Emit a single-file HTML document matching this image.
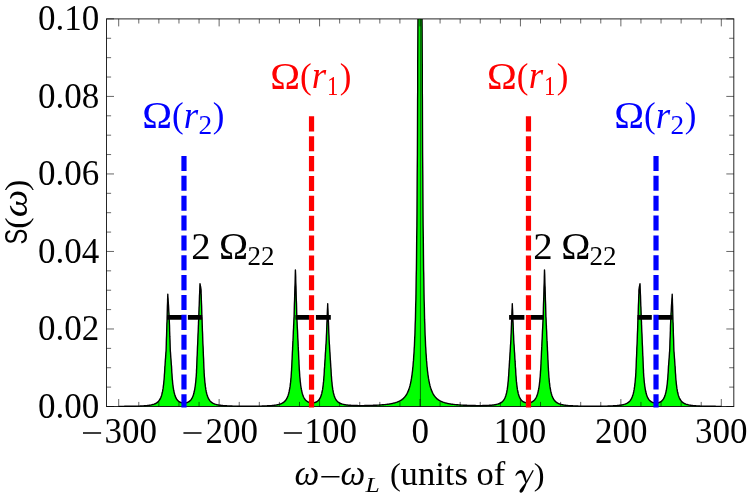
<!DOCTYPE html>
<html><head><meta charset="utf-8"><title>Spectrum</title>
<style>
html,body{margin:0;padding:0;background:#fff;}
svg{display:block;}
text{font-family:"Liberation Serif",serif;}
</style></head><body>
<svg width="747" height="498" viewBox="0 0 747 498">
<rect width="747" height="498" fill="#fff"/>
<clipPath id="c"><rect x="106.5" y="18.9" width="627.3" height="388.6"/></clipPath>
<g clip-path="url(#c)">
<path d="M118.7,406.5 L118.7,406.4 119.4,406.4 120.0,406.4 120.7,406.4 121.4,406.4 122.1,406.4 122.7,406.4 123.4,406.4 124.1,406.4 124.7,406.3 125.4,406.3 126.1,406.3 126.7,406.3 127.4,406.3 128.1,406.3 128.8,406.3 129.4,406.3 130.1,406.3 130.8,406.3 131.4,406.3 132.1,406.3 132.8,406.2 133.4,406.2 134.1,406.2 134.8,406.2 135.5,406.2 136.1,406.2 136.8,406.1 137.5,406.1 138.1,406.1 138.8,406.1 139.5,406.1 140.2,406.0 140.8,406.0 141.5,406.0 142.2,405.9 142.8,405.9 143.5,405.9 144.2,405.8 144.8,405.8 145.5,405.7 146.2,405.6 146.9,405.6 147.5,405.5 148.2,405.4 148.9,405.3 149.5,405.2 150.2,405.1 150.9,405.0 151.5,404.9 152.2,404.7 152.9,404.5 153.6,404.3 154.1,404.1 154.2,404.1 154.3,404.1 154.4,404.0 154.5,404.0 154.6,403.9 154.8,403.9 154.9,403.8 154.9,403.8 155.0,403.8 155.1,403.7 155.3,403.7 155.4,403.6 155.5,403.5 155.6,403.5 155.6,403.5 155.8,403.4 155.9,403.3 156.0,403.3 156.1,403.2 156.2,403.1 156.3,403.1 156.4,403.0 156.5,403.0 156.7,402.9 156.8,402.8 156.9,402.7 156.9,402.7 157.0,402.6 157.2,402.5 157.3,402.4 157.4,402.3 157.5,402.2 157.6,402.2 157.7,402.1 157.8,402.0 157.9,401.9 158.0,401.8 158.2,401.7 158.2,401.6 158.3,401.5 158.4,401.4 158.5,401.3 158.7,401.1 158.8,401.0 158.9,400.8 158.9,400.8 159.0,400.7 159.2,400.5 159.3,400.3 159.4,400.1 159.5,400.0 159.6,399.9 159.7,399.8 159.8,399.6 159.9,399.3 160.0,399.1 160.2,398.9 160.3,398.7 160.3,398.6 160.4,398.4 160.5,398.1 160.7,397.8 160.8,397.6 160.9,397.2 160.9,397.2 161.0,396.9 161.2,396.6 161.3,396.2 161.4,395.9 161.5,395.5 161.6,395.3 161.7,395.0 161.8,394.6 161.9,394.1 162.0,393.6 162.2,393.1 162.3,392.7 162.3,392.6 162.4,392.0 162.6,391.4 162.7,390.7 162.8,390.0 162.9,389.2 162.9,389.1 163.1,388.4 163.2,387.6 163.3,386.7 163.4,385.7 163.6,384.6 163.6,384.1 163.7,383.5 163.8,382.3 163.9,381.0 164.1,379.5 164.2,378.0 164.3,376.7 164.3,376.3 164.4,374.5 164.6,372.6 164.7,370.5 164.8,368.6 164.8,367.9 164.9,366.2 165.0,366.0 165.1,364.5 165.2,362.8 165.3,361.1 165.4,359.4 165.6,357.7 165.6,356.9 165.7,356.0 165.8,354.3 165.9,352.6 166.1,350.9 166.1,350.6 166.2,347.3 166.3,344.0 166.3,343.2 166.4,339.2 166.6,335.1 166.7,331.0 166.8,326.9 166.9,322.8 167.0,322.3 167.1,318.8 167.1,318.0 167.2,314.6 167.3,310.3 167.4,306.1 167.6,301.8 167.6,299.8 167.7,297.6 167.8,294.2 167.8,294.6 167.9,296.7 168.1,298.9 168.2,301.0 168.3,302.7 168.3,303.1 168.5,305.2 168.6,307.3 168.7,309.4 168.8,311.6 169.0,313.7 169.0,314.0 169.1,315.8 169.2,317.9 169.3,321.6 169.5,325.3 169.6,329.0 169.6,330.8 169.7,332.7 169.8,336.4 170.0,340.1 170.1,343.8 170.2,347.5 170.3,350.4 170.3,350.5 170.3,350.8 170.5,352.5 170.6,354.2 170.7,355.9 170.8,357.6 171.0,359.3 171.0,359.6 171.1,360.9 171.2,362.6 171.3,364.3 171.5,366.0 171.6,367.7 171.6,368.4 171.7,369.2 171.7,370.3 171.8,372.4 172.0,374.3 172.1,376.1 172.2,377.8 172.3,379.1 172.3,379.3 172.5,380.7 172.6,382.0 172.7,383.2 172.8,384.3 173.0,385.4 173.0,385.6 173.1,386.4 173.2,387.3 173.3,388.1 173.5,388.9 173.6,389.7 173.7,390.0 173.7,390.4 173.8,391.0 174.0,391.6 174.1,392.2 174.2,392.8 174.3,393.2 174.4,393.3 174.5,393.7 174.6,394.2 174.7,394.6 174.9,395.0 175.0,395.4 175.0,395.5 175.1,395.8 175.2,396.1 175.4,396.5 175.5,396.8 175.6,397.1 175.7,397.2 175.7,397.4 175.9,397.6 176.0,397.9 176.1,398.1 176.2,398.4 176.3,398.6 176.4,398.6 176.5,398.8 176.6,399.0 176.7,399.2 176.9,399.4 177.0,399.6 177.0,399.6 177.1,399.7 177.2,399.9 177.4,400.0 177.5,400.2 177.6,400.3 177.7,400.4 177.7,400.5 177.9,400.6 178.0,400.7 178.1,400.8 178.2,401.0 178.4,401.1 178.4,401.1 178.5,401.2 178.6,401.3 178.7,401.4 178.9,401.5 179.0,401.5 179.0,401.6 179.1,401.6 179.2,401.7 179.4,401.8 179.5,401.9 179.6,401.9 179.7,402.0 179.7,402.0 179.9,402.1 180.0,402.1 180.1,402.2 180.3,402.2 180.4,402.3 180.4,402.3 180.5,402.3 180.6,402.4 180.8,402.4 180.9,402.5 181.0,402.5 181.0,402.5 181.1,402.6 181.3,402.6 181.4,402.6 181.5,402.7 181.6,402.7 181.7,402.7 181.8,402.7 181.9,402.8 182.0,402.8 182.1,402.8 182.3,402.8 182.4,402.9 183.0,402.9 183.7,403.0 184.4,403.0 185.1,402.9 185.7,402.8 186.2,402.7 186.4,402.7 186.4,402.7 186.5,402.7 186.6,402.6 186.7,402.6 186.9,402.6 187.0,402.5 187.1,402.5 187.1,402.5 187.2,402.5 187.4,402.4 187.5,402.4 187.6,402.3 187.7,402.3 187.7,402.3 187.9,402.2 188.0,402.1 188.1,402.1 188.2,402.0 188.4,402.0 188.4,401.9 188.5,401.9 188.6,401.8 188.8,401.7 188.9,401.7 189.0,401.6 189.1,401.5 189.1,401.5 189.3,401.4 189.4,401.3 189.5,401.2 189.6,401.1 189.8,401.0 189.8,401.0 189.9,400.9 190.0,400.8 190.1,400.7 190.3,400.6 190.4,400.5 190.4,400.4 190.5,400.3 190.6,400.2 190.8,400.0 190.9,399.9 191.0,399.7 191.1,399.6 191.1,399.6 191.3,399.4 191.4,399.2 191.5,399.0 191.6,398.8 191.8,398.6 191.8,398.6 191.9,398.4 192.0,398.2 192.1,398.0 192.3,397.7 192.4,397.5 192.4,397.4 192.5,397.2 192.6,396.9 192.8,396.6 192.9,396.3 193.0,396.0 193.1,395.8 193.1,395.6 193.3,395.3 193.4,394.9 193.5,394.5 193.6,394.1 193.8,393.6 193.8,393.6 193.9,393.1 194.0,392.6 194.1,392.1 194.3,391.6 194.4,391.0 194.4,390.7 194.5,390.3 194.7,389.6 194.8,388.9 194.9,388.2 195.0,387.4 195.1,386.8 195.2,386.5 195.3,385.6 195.4,384.6 195.5,383.5 195.7,382.3 195.8,381.1 195.8,381.1 195.9,379.8 196.0,378.4 196.2,376.8 196.3,375.2 196.4,373.3 196.5,372.6 196.5,372.2 196.5,370.6 196.7,367.6 196.8,364.6 196.9,361.6 197.0,358.6 197.1,356.5 197.2,355.6 197.3,352.7 197.4,349.7 197.5,346.7 197.7,343.7 197.8,340.7 197.8,340.5 197.9,337.6 198.0,334.6 198.2,331.5 198.3,328.5 198.4,325.4 198.5,324.2 198.5,322.4 198.7,319.3 198.7,317.5 198.8,316.1 198.9,312.7 199.0,309.4 199.1,306.9 199.2,306.0 199.3,302.6 199.4,299.2 199.5,295.9 199.7,292.5 199.8,289.1 199.8,288.9 199.9,285.7 200.0,283.7 200.0,284.0 200.2,284.7 200.3,285.4 200.4,286.1 200.5,286.3 200.6,286.7 200.7,287.4 200.8,288.1 200.9,288.8 201.0,289.2 201.1,290.7 201.1,293.5 201.2,294.4 201.3,298.2 201.4,301.9 201.6,305.6 201.7,309.3 201.8,313.1 201.8,313.4 201.9,316.8 202.0,317.5 202.1,320.3 202.2,323.7 202.3,327.1 202.4,330.6 202.5,332.0 202.6,334.0 202.7,337.4 202.8,340.8 202.9,343.8 203.1,346.8 203.2,349.1 203.2,349.8 203.3,352.8 203.4,355.8 203.6,358.8 203.7,361.8 203.8,364.8 203.8,365.1 203.9,367.8 204.1,370.8 204.1,372.4 204.2,373.5 204.3,375.4 204.4,377.0 204.5,377.7 204.6,378.6 204.7,380.0 204.8,381.3 204.9,382.6 205.1,383.7 205.2,384.6 205.2,384.8 205.3,385.8 205.4,386.7 205.6,387.6 205.7,388.4 205.8,389.2 205.8,389.3 205.9,389.9 206.1,390.6 206.2,391.3 206.3,391.9 206.5,392.4 206.5,392.7 206.6,393.0 206.7,393.5 206.8,394.0 207.0,394.4 207.1,394.9 207.2,395.2 207.2,395.3 207.3,395.7 207.5,396.0 207.6,396.4 207.7,396.7 207.8,397.0 207.9,397.1 208.0,397.3 208.1,397.6 208.2,397.9 208.3,398.2 208.5,398.4 208.5,398.6 208.6,398.7 208.7,398.9 208.8,399.1 209.0,399.3 209.1,399.6 209.2,399.7 209.2,399.7 209.3,399.9 209.5,400.1 209.6,400.3 209.7,400.5 209.8,400.6 209.9,400.6 210.0,400.8 210.1,400.9 210.2,401.1 210.3,401.2 210.5,401.3 210.5,401.4 210.6,401.5 210.7,401.6 210.8,401.7 211.0,401.8 211.1,401.9 211.2,402.0 211.2,402.0 211.3,402.2 211.5,402.3 211.6,402.3 211.7,402.4 211.8,402.5 211.9,402.6 212.0,402.6 212.1,402.7 212.2,402.8 212.4,402.9 212.5,403.0 212.5,403.0 212.6,403.0 212.7,403.1 212.9,403.2 213.0,403.2 213.1,403.3 213.2,403.4 213.2,403.4 213.4,403.4 213.5,403.5 213.6,403.6 213.7,403.6 213.9,403.7 213.9,403.7 214.0,403.7 214.1,403.8 214.2,403.8 214.4,403.9 214.6,404.0 215.2,404.2 215.9,404.4 216.6,404.6 217.2,404.8 217.9,404.9 218.6,405.0 219.2,405.1 219.9,405.2 220.6,405.3 221.3,405.4 221.9,405.5 222.6,405.5 223.3,405.6 223.9,405.7 224.6,405.7 225.3,405.8 225.9,405.8 226.6,405.8 227.3,405.9 228.0,405.9 228.6,405.9 229.3,406.0 230.0,406.0 230.6,406.0 231.3,406.0 232.0,406.0 232.7,406.1 233.3,406.1 234.0,406.1 234.7,406.1 235.3,406.1 236.0,406.1 236.7,406.1 237.3,406.2 238.0,406.2 238.7,406.2 239.4,406.2 240.0,406.2 240.7,406.2 241.4,406.2 242.0,406.2 242.7,406.2 243.4,406.2 244.0,406.2 244.7,406.2 245.4,406.2 246.1,406.2 246.7,406.2 247.4,406.2 248.1,406.2 248.7,406.2 249.4,406.2 250.1,406.2 250.7,406.2 251.4,406.2 252.1,406.2 252.8,406.2 253.4,406.2 254.1,406.2 254.8,406.2 255.4,406.2 256.1,406.2 256.8,406.1 257.5,406.1 258.1,406.1 258.8,406.1 259.5,406.1 260.1,406.1 260.8,406.1 261.5,406.1 262.1,406.0 262.8,406.0 263.5,406.0 264.2,406.0 264.8,406.0 265.5,405.9 266.2,405.9 266.8,405.9 267.5,405.8 268.2,405.8 268.8,405.8 269.5,405.7 270.2,405.7 270.9,405.6 271.5,405.6 272.2,405.5 272.9,405.4 273.5,405.4 274.2,405.3 274.9,405.2 275.6,405.1 276.2,405.0 276.9,404.9 277.6,404.7 278.2,404.6 278.9,404.4 279.6,404.2 280.2,404.0 280.9,403.8 281.4,403.6 281.5,403.5 281.6,403.5 281.6,403.4 281.8,403.4 281.9,403.3 282.0,403.3 282.1,403.2 282.3,403.1 282.3,403.1 282.4,403.1 282.5,403.0 282.6,402.9 282.8,402.8 282.9,402.8 282.9,402.7 283.0,402.7 283.1,402.6 283.3,402.5 283.4,402.4 283.5,402.3 283.6,402.3 283.6,402.2 283.8,402.2 283.9,402.1 284.0,402.0 284.2,401.8 284.3,401.7 284.3,401.7 284.4,401.6 284.5,401.5 284.7,401.4 284.8,401.3 284.9,401.1 284.9,401.1 285.0,401.0 285.2,400.9 285.3,400.7 285.4,400.6 285.5,400.4 285.6,400.3 285.7,400.3 285.8,400.1 285.9,399.9 286.0,399.7 286.2,399.6 286.3,399.4 286.3,399.4 286.4,399.2 286.5,399.0 286.7,398.7 286.8,398.5 286.9,398.3 286.9,398.2 287.0,398.0 287.2,397.8 287.3,397.5 287.4,397.2 287.5,396.9 287.6,396.7 287.7,396.6 287.8,396.3 287.9,395.9 288.0,395.6 288.2,395.2 288.3,394.8 288.3,394.8 288.4,394.4 288.5,394.0 288.7,393.5 288.8,393.0 288.9,392.5 289.0,392.4 289.0,392.0 289.2,391.4 289.3,390.8 289.4,390.2 289.5,389.5 289.6,389.1 289.7,388.8 289.8,388.1 289.9,387.3 290.1,386.4 290.2,385.5 290.3,384.6 290.3,384.5 290.4,383.5 290.6,382.4 290.7,381.2 290.8,379.9 290.9,378.5 291.0,378.1 291.1,377.0 291.2,375.4 291.3,373.7 291.4,371.8 291.6,369.8 291.6,368.5 291.7,367.6 291.8,365.3 291.9,362.7 292.0,360.4 292.1,359.5 292.2,356.9 292.3,354.4 292.3,354.3 292.4,351.8 292.6,349.2 292.6,347.6 292.7,346.6 292.8,343.9 292.9,341.2 293.0,340.4 293.1,338.5 293.2,335.9 293.3,333.2 293.3,332.6 293.4,330.5 293.6,327.8 293.6,326.1 293.7,325.2 293.8,322.5 293.9,319.8 294.0,317.7 294.1,316.8 294.2,312.6 294.3,308.3 294.3,308.3 294.4,304.0 294.6,299.8 294.7,295.5 294.8,291.3 294.9,287.0 295.0,285.6 295.1,282.8 295.2,278.5 295.3,274.3 295.4,270.0 295.6,274.3 295.7,277.1 295.7,278.5 295.8,282.8 296.0,287.0 296.1,291.2 296.2,295.5 296.3,299.7 296.3,299.8 296.5,304.0 296.6,308.2 296.7,312.5 296.8,316.7 296.9,317.6 297.0,319.7 297.0,320.7 297.1,322.4 297.2,325.1 297.3,327.7 297.5,330.4 297.6,332.5 297.6,333.1 297.7,334.9 297.7,335.7 297.8,338.4 298.0,341.1 298.1,343.8 298.2,346.4 298.3,347.5 298.3,349.0 298.3,349.1 298.5,351.6 298.6,354.2 298.7,356.7 298.8,359.3 298.9,360.3 299.0,362.5 299.0,363.5 299.1,365.1 299.2,367.4 299.3,369.6 299.5,371.6 299.6,373.5 299.7,374.7 299.7,375.2 299.8,376.8 300.0,378.3 300.1,379.6 300.2,380.9 300.3,382.1 300.4,382.2 300.5,383.2 300.6,384.2 300.7,385.2 300.8,386.1 301.0,387.0 301.0,387.3 301.1,387.8 301.2,388.5 301.4,389.2 301.5,389.9 301.6,390.5 301.7,390.9 301.7,391.1 301.9,391.7 302.0,392.2 302.1,392.7 302.2,393.2 302.4,393.6 302.4,393.6 302.5,394.0 302.6,394.4 302.7,394.8 302.9,395.2 303.0,395.5 303.0,395.7 303.1,395.9 303.2,396.2 303.4,396.5 303.5,396.8 303.6,397.0 303.7,397.2 303.7,397.3 303.9,397.5 304.0,397.8 304.1,398.0 304.2,398.2 304.4,398.4 304.4,398.4 304.5,398.6 304.6,398.8 304.7,399.0 304.9,399.2 305.0,399.3 305.0,399.4 305.1,399.5 305.2,399.7 305.4,399.8 305.5,400.0 305.6,400.1 305.7,400.2 305.7,400.2 305.9,400.4 306.0,400.5 306.1,400.6 306.2,400.7 306.4,400.8 306.4,400.8 306.5,400.9 306.6,401.0 306.7,401.1 306.9,401.2 307.0,401.3 307.1,401.3 307.1,401.4 307.3,401.5 307.4,401.5 307.5,401.6 307.6,401.7 307.7,401.7 307.8,401.7 307.9,401.8 308.0,401.9 308.1,401.9 308.3,402.0 308.4,402.0 308.4,402.1 308.5,402.1 308.6,402.2 308.8,402.2 308.9,402.3 309.0,402.3 309.1,402.3 309.1,402.3 309.3,402.4 309.4,402.4 309.5,402.5 309.7,402.5 310.4,402.7 311.1,402.8 311.7,402.8 312.4,402.8 313.1,402.8 313.6,402.7 313.8,402.7 313.8,402.7 313.9,402.7 314.0,402.7 314.1,402.7 314.3,402.6 314.4,402.6 314.4,402.6 314.5,402.6 314.6,402.6 314.8,402.5 314.9,402.5 315.0,402.5 315.1,402.4 315.1,402.4 315.3,402.4 315.4,402.3 315.5,402.3 315.6,402.2 315.8,402.2 315.8,402.2 315.9,402.1 316.0,402.1 316.2,402.0 316.3,402.0 316.4,401.9 316.4,401.9 316.5,401.8 316.7,401.8 316.8,401.7 316.9,401.6 317.0,401.6 317.1,401.5 317.2,401.5 317.3,401.4 317.4,401.3 317.5,401.2 317.7,401.1 317.8,401.0 317.8,401.0 317.9,400.9 318.0,400.8 318.2,400.7 318.3,400.5 318.4,400.4 318.4,400.4 318.5,400.3 318.7,400.1 318.8,400.0 318.9,399.8 319.0,399.7 319.1,399.6 319.2,399.5 319.3,399.3 319.4,399.2 319.5,399.0 319.7,398.8 319.8,398.6 319.8,398.6 319.9,398.3 320.0,398.1 320.2,397.9 320.3,397.6 320.4,397.3 320.5,397.2 320.5,397.1 320.7,396.8 320.8,396.4 320.9,396.1 321.0,395.7 321.1,395.5 321.2,395.4 321.3,395.0 321.4,394.6 321.5,394.1 321.7,393.7 321.8,393.2 321.8,393.2 321.9,392.6 322.1,392.1 322.2,391.5 322.3,390.8 322.4,390.2 322.5,389.9 322.6,389.4 322.7,388.7 322.8,387.8 322.9,387.0 323.1,386.0 323.1,385.3 323.2,385.0 323.3,383.9 323.4,382.7 323.6,381.4 323.7,380.0 323.8,378.5 323.8,378.5 323.9,376.9 324.1,375.1 324.2,373.2 324.3,371.5 324.3,370.8 324.4,368.8 324.5,368.1 324.6,366.9 324.7,365.0 324.8,363.1 324.9,361.9 324.9,361.1 325.1,359.1 325.2,357.7 325.2,357.1 325.3,355.1 325.4,353.1 325.6,351.1 325.6,350.7 325.7,349.1 325.8,347.1 325.8,347.0 325.9,345.1 326.1,343.1 326.2,341.1 326.3,339.5 326.3,338.9 326.4,335.7 326.5,334.4 326.6,332.5 326.7,329.3 326.8,326.1 326.9,322.9 327.1,319.7 327.2,317.4 327.2,316.5 327.3,313.4 327.4,310.2 327.6,307.0 327.7,303.8 327.8,307.0 327.8,307.2 328.0,310.2 328.1,313.4 328.2,316.6 328.3,319.8 328.5,323.0 328.5,324.3 328.6,326.2 328.7,329.3 328.8,332.5 329.0,335.7 329.1,338.9 329.1,339.6 329.2,340.7 329.2,341.2 329.3,343.2 329.5,345.2 329.6,347.2 329.7,349.2 329.8,350.8 329.8,351.2 329.8,351.4 330.0,353.2 330.1,355.2 330.2,357.2 330.3,359.2 330.5,361.2 330.5,362.0 330.5,362.1 330.6,363.2 330.7,365.1 330.8,367.1 331.0,369.0 331.1,370.9 331.1,371.6 331.2,372.8 331.2,373.3 331.3,375.3 331.5,377.1 331.6,378.7 331.7,380.2 331.8,381.6 331.9,381.7 332.0,382.9 332.1,384.1 332.2,385.2 332.3,386.2 332.5,387.2 332.5,387.6 332.6,388.1 332.7,388.9 332.8,389.7 333.0,390.4 333.1,391.1 333.2,391.6 333.2,391.8 333.3,392.4 333.5,392.9 333.6,393.5 333.7,394.0 333.9,394.5 333.9,394.5 334.0,394.9 334.1,395.3 334.2,395.7 334.4,396.1 334.5,396.5 334.5,396.6 334.6,396.8 334.7,397.1 334.9,397.4 335.0,397.7 335.1,398.0 335.2,398.2 335.2,398.3 335.4,398.5 335.5,398.8 335.6,399.0 335.7,399.2 335.9,399.4 335.9,399.5 336.0,399.7 336.1,399.8 336.2,400.0 336.4,400.2 336.5,400.4 336.5,400.5 336.6,400.5 336.7,400.7 336.9,400.8 337.0,401.0 337.1,401.1 337.2,401.2 337.2,401.3 337.4,401.4 337.5,401.5 337.6,401.6 337.7,401.8 337.9,401.9 337.9,401.9 338.0,402.0 338.1,402.1 338.2,402.2 338.4,402.3 338.5,402.4 338.6,402.4 338.6,402.4 338.7,402.5 338.9,402.6 339.0,402.7 339.1,402.8 339.2,402.8 339.2,402.9 339.4,402.9 339.5,403.0 339.6,403.1 339.8,403.1 339.9,403.2 339.9,403.2 340.0,403.3 340.1,403.3 340.3,403.4 340.4,403.4 340.5,403.5 340.6,403.5 340.6,403.5 340.8,403.6 340.9,403.6 341.0,403.7 341.1,403.7 341.2,403.8 341.3,403.8 341.4,403.8 341.5,403.9 341.6,403.9 341.8,404.0 341.9,404.0 342.6,404.2 343.3,404.4 343.9,404.5 344.6,404.7 345.3,404.8 345.9,404.9 346.6,405.0 347.3,405.0 347.9,405.1 348.6,405.2 349.3,405.2 350.0,405.3 350.6,405.3 351.3,405.4 352.0,405.4 352.6,405.4 353.3,405.5 354.0,405.5 354.6,405.5 355.3,405.5 356.0,405.5 356.7,405.5 357.3,405.5 358.0,405.6 358.7,405.6 359.3,405.6 360.0,405.6 360.7,405.6 361.3,405.6 362.0,405.6 362.7,405.6 363.4,405.6 364.0,405.6 364.7,405.5 365.4,405.5 366.0,405.5 366.7,405.5 367.4,405.5 368.1,405.5 368.7,405.5 369.4,405.5 370.1,405.4 370.7,405.4 371.4,405.4 372.1,405.4 372.7,405.4 373.4,405.3 374.1,405.3 374.8,405.3 375.4,405.2 376.1,405.2 376.8,405.2 377.4,405.1 378.1,405.1 378.8,405.1 379.4,405.0 380.1,405.0 380.8,404.9 381.5,404.9 382.1,404.8 382.8,404.8 383.5,404.7 384.1,404.6 384.8,404.6 385.5,404.5 386.1,404.4 386.8,404.4 387.5,404.3 388.2,404.2 388.8,404.1 389.5,404.0 390.2,403.9 390.8,403.8 391.5,403.6 392.2,403.5 392.9,403.4 393.5,403.2 394.2,403.0 394.9,402.9 395.5,402.7 396.2,402.4 396.9,402.2 397.5,402.0 398.2,401.7 398.9,401.4 399.6,401.1 400.2,400.7 400.9,400.3 401.6,399.9 402.2,399.4 402.9,398.9 403.6,398.2 404.2,397.6 404.9,396.8 405.6,395.9 405.9,395.4 406.1,395.2 406.2,395.0 406.3,394.9 406.3,394.8 406.4,394.6 406.6,394.4 406.7,394.2 406.8,394.0 406.9,393.8 406.9,393.8 407.1,393.5 407.2,393.3 407.3,393.0 407.4,392.8 407.6,392.5 407.6,392.5 407.7,392.3 407.8,392.0 407.9,391.7 408.1,391.4 408.2,391.1 408.3,390.9 408.3,390.8 408.5,390.5 408.6,390.1 408.7,389.8 408.8,389.4 408.9,389.1 409.0,389.1 409.1,388.7 409.2,388.3 409.3,387.9 409.5,387.5 409.6,387.1 409.6,387.0 409.7,386.6 409.8,386.2 410.0,385.7 410.1,385.2 410.2,384.7 410.3,384.4 410.3,384.2 410.5,383.6 410.6,383.1 410.7,382.5 410.8,381.9 411.0,381.3 411.0,381.2 411.1,380.6 411.2,379.9 411.3,379.2 411.5,378.4 411.6,377.6 411.6,377.4 411.7,376.8 411.8,376.0 412.0,375.1 412.1,374.2 412.2,373.2 412.3,372.6 412.3,372.2 412.5,371.1 412.6,370.0 412.7,368.8 412.8,367.6 413.0,366.4 413.0,366.3 413.1,365.0 413.2,363.5 413.3,362.0 413.5,360.4 413.6,358.8 413.6,358.3 413.7,357.0 413.8,355.1 414.0,353.1 414.1,351.0 414.2,348.7 414.3,347.3 414.4,346.3 414.5,343.8 414.6,341.0 414.7,338.1 414.9,335.0 415.0,331.8 415.0,331.6 415.1,328.0 415.2,324.1 415.4,319.9 415.5,315.4 415.6,310.4 415.6,308.9 415.7,305.1 415.9,299.2 416.0,292.8 416.1,285.8 416.2,278.1 416.3,272.8 416.4,269.6 416.5,260.2 416.6,249.8 416.7,238.2 416.9,225.1 417.0,210.9 417.0,210.5 417.1,193.9 417.2,175.1 417.4,153.5 417.5,128.8 417.6,100.1 417.7,90.2 417.7,66.6 417.9,27.2 418.0,17.0 418.1,17.0 418.2,17.0 418.3,17.0 418.4,17.0 418.5,17.0 418.6,17.0 418.7,17.0 418.9,17.0 419.0,17.0 419.0,17.0 419.1,17.0 419.2,17.0 419.4,17.0 419.5,17.0 419.6,17.0 419.7,17.0 419.7,17.0 419.9,17.0 420.0,17.0 420.1,17.0 420.3,17.0 420.3,17.0 420.4,17.0 420.5,17.0 420.6,17.0 420.8,17.0 420.9,17.0 421.0,17.0 421.0,17.0 421.1,17.0 421.3,17.0 421.4,17.0 421.5,17.0 421.6,17.0 421.7,17.0 421.8,17.0 421.9,17.0 422.0,17.0 422.1,27.2 422.3,66.6 422.3,90.2 422.4,100.1 422.5,128.8 422.6,153.5 422.8,175.1 422.9,193.9 423.0,210.5 423.0,210.9 423.1,225.1 423.3,238.2 423.4,249.8 423.5,260.2 423.6,269.6 423.7,272.8 423.8,278.1 423.9,285.8 424.0,292.8 424.1,299.2 424.3,305.1 424.4,308.9 424.4,310.4 424.5,315.4 424.6,319.9 424.8,324.1 424.9,328.0 425.0,331.6 425.0,331.8 425.1,335.0 425.3,338.1 425.4,341.0 425.5,343.8 425.6,346.3 425.7,347.3 425.8,348.7 425.9,351.0 426.0,353.1 426.2,355.1 426.3,357.0 426.4,358.3 426.4,358.8 426.5,360.4 426.7,362.0 426.8,363.5 426.9,365.0 427.0,366.3 427.0,366.4 427.2,367.6 427.3,368.8 427.4,370.0 427.5,371.1 427.7,372.2 427.7,372.6 427.8,373.2 427.9,374.2 428.0,375.1 428.2,376.0 428.3,376.8 428.4,377.4 428.4,377.6 428.5,378.4 428.7,379.2 428.8,379.9 428.9,380.6 429.0,381.2 429.0,381.3 429.2,381.9 429.3,382.5 429.4,383.1 429.5,383.6 429.7,384.2 429.7,384.4 429.8,384.7 429.9,385.2 430.0,385.7 430.2,386.2 430.3,386.6 430.4,387.0 430.4,387.1 430.5,387.5 430.7,387.9 430.8,388.3 430.9,388.7 431.0,389.1 431.1,389.1 431.2,389.4 431.3,389.8 431.4,390.1 431.5,390.5 431.7,390.8 431.7,390.9 431.8,391.1 431.9,391.4 432.1,391.7 432.2,392.0 432.3,392.3 432.4,392.5 432.4,392.5 432.6,392.8 432.7,393.0 432.8,393.3 432.9,393.5 433.1,393.8 433.1,393.8 433.2,394.0 433.3,394.2 433.4,394.4 433.6,394.6 433.7,394.8 433.7,394.9 433.8,395.0 433.9,395.2 434.1,395.4 434.4,395.9 435.1,396.8 435.8,397.6 436.4,398.2 437.1,398.9 437.8,399.4 438.4,399.9 439.1,400.3 439.8,400.7 440.4,401.1 441.1,401.4 441.8,401.7 442.5,402.0 443.1,402.2 443.8,402.4 444.5,402.7 445.1,402.9 445.8,403.0 446.5,403.2 447.1,403.4 447.8,403.5 448.5,403.6 449.2,403.8 449.8,403.9 450.5,404.0 451.2,404.1 451.8,404.2 452.5,404.3 453.2,404.4 453.9,404.4 454.5,404.5 455.2,404.6 455.9,404.6 456.5,404.7 457.2,404.8 457.9,404.8 458.5,404.9 459.2,404.9 459.9,405.0 460.6,405.0 461.2,405.1 461.9,405.1 462.6,405.1 463.2,405.2 463.9,405.2 464.6,405.2 465.2,405.3 465.9,405.3 466.6,405.3 467.3,405.4 467.9,405.4 468.6,405.4 469.3,405.4 469.9,405.4 470.6,405.5 471.3,405.5 471.9,405.5 472.6,405.5 473.3,405.5 474.0,405.5 474.6,405.5 475.3,405.5 476.0,405.6 476.6,405.6 477.3,405.6 478.0,405.6 478.7,405.6 479.3,405.6 480.0,405.6 480.7,405.6 481.3,405.6 482.0,405.6 482.7,405.5 483.3,405.5 484.0,405.5 484.7,405.5 485.4,405.5 486.0,405.5 486.7,405.5 487.4,405.4 488.0,405.4 488.7,405.4 489.4,405.3 490.0,405.3 490.7,405.2 491.4,405.2 492.1,405.1 492.7,405.0 493.4,405.0 494.1,404.9 494.7,404.8 495.4,404.7 496.1,404.5 496.7,404.4 497.4,404.2 498.1,404.0 498.2,404.0 498.4,403.9 498.5,403.9 498.6,403.8 498.7,403.8 498.8,403.8 498.9,403.7 499.0,403.7 499.1,403.6 499.2,403.6 499.4,403.5 499.4,403.5 499.5,403.5 499.6,403.4 499.7,403.4 499.9,403.3 500.0,403.3 500.1,403.2 500.1,403.2 500.2,403.1 500.4,403.1 500.5,403.0 500.6,402.9 500.8,402.9 500.8,402.8 500.9,402.8 501.0,402.7 501.1,402.6 501.3,402.5 501.4,402.4 501.4,402.4 501.5,402.4 501.6,402.3 501.8,402.2 501.9,402.1 502.0,402.0 502.1,401.9 502.1,401.9 502.3,401.8 502.4,401.6 502.5,401.5 502.6,401.4 502.8,401.3 502.8,401.2 502.9,401.1 503.0,401.0 503.1,400.8 503.3,400.7 503.4,400.5 503.5,400.5 503.5,400.4 503.6,400.2 503.8,400.0 503.9,399.8 504.0,399.7 504.1,399.5 504.1,399.4 504.3,399.2 504.4,399.0 504.5,398.8 504.6,398.5 504.8,398.3 504.8,398.2 504.9,398.0 505.0,397.7 505.1,397.4 505.3,397.1 505.4,396.8 505.5,396.6 505.5,396.5 505.6,396.1 505.8,395.7 505.9,395.3 506.0,394.9 506.1,394.5 506.1,394.5 506.3,394.0 506.4,393.5 506.5,392.9 506.7,392.4 506.8,391.8 506.8,391.6 506.9,391.1 507.0,390.4 507.2,389.7 507.3,388.9 507.4,388.1 507.5,387.6 507.5,387.2 507.7,386.2 507.8,385.2 507.9,384.1 508.0,382.9 508.1,381.7 508.2,381.6 508.3,380.2 508.4,378.7 508.5,377.1 508.7,375.3 508.8,373.3 508.8,372.8 508.9,371.6 508.9,370.9 509.0,369.0 509.2,367.1 509.3,365.1 509.4,363.2 509.5,362.1 509.5,362.0 509.5,361.2 509.7,359.2 509.8,357.2 509.9,355.2 510.0,353.2 510.2,351.4 510.2,351.2 510.2,350.8 510.3,349.2 510.4,347.2 510.5,345.2 510.7,343.2 510.8,341.2 510.8,340.7 510.9,339.6 510.9,338.9 511.0,335.7 511.2,332.5 511.3,329.3 511.4,326.2 511.5,324.3 511.5,323.0 511.7,319.8 511.8,316.6 511.9,313.4 512.0,310.2 512.2,307.2 512.2,307.0 512.3,303.8 512.4,307.0 512.6,310.2 512.7,313.4 512.8,316.6 512.8,317.4 512.9,319.7 513.1,322.9 513.2,326.1 513.3,329.3 513.4,332.5 513.5,334.4 513.6,335.7 513.7,338.9 513.7,339.5 513.8,341.1 513.9,343.1 514.1,345.1 514.2,347.0 514.2,347.1 514.3,349.1 514.4,350.7 514.4,351.1 514.6,353.1 514.7,355.1 514.8,357.1 514.8,357.7 514.9,359.1 515.1,361.1 515.1,361.9 515.2,363.1 515.3,365.0 515.4,366.9 515.5,368.1 515.6,368.8 515.7,370.8 515.7,371.5 515.8,373.2 515.9,375.1 516.1,376.9 516.2,378.5 516.2,378.5 516.3,380.0 516.4,381.4 516.6,382.7 516.7,383.9 516.8,385.0 516.9,385.3 516.9,386.0 517.1,387.0 517.2,387.8 517.3,388.7 517.4,389.4 517.5,389.9 517.6,390.2 517.7,390.8 517.8,391.5 517.9,392.1 518.1,392.6 518.2,393.2 518.2,393.2 518.3,393.7 518.5,394.1 518.6,394.6 518.7,395.0 518.8,395.4 518.9,395.5 519.0,395.7 519.1,396.1 519.2,396.4 519.3,396.8 519.5,397.1 519.5,397.2 519.6,397.3 519.7,397.6 519.8,397.9 520.0,398.1 520.1,398.3 520.2,398.6 520.2,398.6 520.3,398.8 520.5,399.0 520.6,399.2 520.7,399.3 520.8,399.5 520.9,399.6 521.0,399.7 521.1,399.8 521.2,400.0 521.3,400.1 521.5,400.3 521.6,400.4 521.6,400.4 521.7,400.5 521.8,400.7 522.0,400.8 522.1,400.9 522.2,401.0 522.2,401.0 522.3,401.1 522.5,401.2 522.6,401.3 522.7,401.4 522.8,401.5 522.9,401.5 523.0,401.6 523.1,401.6 523.2,401.7 523.3,401.8 523.5,401.8 523.6,401.9 523.6,401.9 523.7,402.0 523.8,402.0 524.0,402.1 524.1,402.1 524.2,402.2 524.2,402.2 524.4,402.2 524.5,402.3 524.6,402.3 524.7,402.4 524.9,402.4 524.9,402.4 525.0,402.5 525.1,402.5 525.2,402.5 525.4,402.6 525.5,402.6 525.6,402.6 525.6,402.6 525.7,402.6 525.9,402.7 526.0,402.7 526.1,402.7 526.2,402.7 526.2,402.7 526.4,402.7 526.9,402.8 527.6,402.8 528.3,402.8 528.9,402.8 529.6,402.7 530.3,402.5 530.5,402.5 530.6,402.4 530.7,402.4 530.9,402.3 530.9,402.3 531.0,402.3 531.1,402.3 531.2,402.2 531.4,402.2 531.5,402.1 531.6,402.1 531.6,402.0 531.7,402.0 531.9,401.9 532.0,401.9 532.1,401.8 532.2,401.7 532.3,401.7 532.4,401.7 532.5,401.6 532.6,401.5 532.7,401.5 532.9,401.4 532.9,401.3 533.0,401.3 533.1,401.2 533.3,401.1 533.4,401.0 533.5,400.9 533.6,400.8 533.6,400.8 533.8,400.7 533.9,400.6 534.0,400.5 534.1,400.4 534.3,400.2 534.3,400.2 534.4,400.1 534.5,400.0 534.6,399.8 534.8,399.7 534.9,399.5 535.0,399.4 535.0,399.3 535.1,399.2 535.3,399.0 535.4,398.8 535.5,398.6 535.6,398.4 535.6,398.4 535.8,398.2 535.9,398.0 536.0,397.8 536.1,397.5 536.3,397.3 536.3,397.2 536.4,397.0 536.5,396.8 536.6,396.5 536.8,396.2 536.9,395.9 537.0,395.7 537.0,395.5 537.1,395.2 537.3,394.8 537.4,394.4 537.5,394.0 537.6,393.6 537.6,393.6 537.8,393.2 537.9,392.7 538.0,392.2 538.1,391.7 538.3,391.1 538.3,390.9 538.4,390.5 538.5,389.9 538.6,389.2 538.8,388.5 538.9,387.8 539.0,387.3 539.0,387.0 539.2,386.1 539.3,385.2 539.4,384.2 539.5,383.2 539.6,382.2 539.7,382.1 539.8,380.9 539.9,379.6 540.0,378.3 540.2,376.8 540.3,375.2 540.3,374.7 540.4,373.5 540.5,371.6 540.7,369.6 540.8,367.4 540.9,365.1 541.0,363.5 541.0,362.5 541.1,360.3 541.2,359.3 541.3,356.7 541.4,354.2 541.5,351.6 541.7,349.1 541.7,349.0 541.7,347.5 541.8,346.4 541.9,343.8 542.0,341.1 542.2,338.4 542.3,335.7 542.3,334.9 542.4,333.1 542.4,332.5 542.5,330.4 542.7,327.7 542.8,325.1 542.9,322.4 543.0,320.7 543.0,319.7 543.1,317.6 543.2,316.7 543.3,312.5 543.4,308.2 543.5,304.0 543.7,299.8 543.7,299.7 543.8,295.5 543.9,291.2 544.0,287.0 544.2,282.7 544.3,278.5 544.3,277.1 544.4,274.2 544.5,270.0 544.7,274.3 544.8,278.5 544.9,282.8 545.0,285.6 545.1,287.0 545.2,291.3 545.3,295.5 545.4,299.8 545.6,304.0 545.7,308.3 545.7,308.3 545.8,312.6 545.9,316.8 546.0,317.7 546.1,319.8 546.2,322.5 546.3,325.2 546.4,326.1 546.4,327.8 546.6,330.5 546.7,332.6 546.7,333.2 546.8,335.9 546.9,338.5 547.0,340.4 547.1,341.2 547.2,343.9 547.3,346.6 547.4,347.6 547.4,349.2 547.6,351.8 547.7,354.3 547.7,354.4 547.8,356.9 547.9,359.5 548.0,360.4 548.1,362.7 548.2,365.3 548.3,367.6 548.4,368.5 548.4,369.8 548.6,371.8 548.7,373.7 548.8,375.4 548.9,377.0 549.0,378.1 549.1,378.5 549.2,379.9 549.3,381.2 549.4,382.4 549.6,383.5 549.7,384.5 549.7,384.6 549.8,385.5 549.9,386.4 550.1,387.3 550.2,388.1 550.3,388.8 550.4,389.1 550.5,389.5 550.6,390.2 550.7,390.8 550.8,391.4 551.0,392.0 551.0,392.4 551.1,392.5 551.2,393.0 551.3,393.5 551.5,394.0 551.6,394.4 551.7,394.8 551.7,394.8 551.8,395.2 552.0,395.6 552.1,395.9 552.2,396.3 552.3,396.6 552.4,396.7 552.5,396.9 552.6,397.2 552.7,397.5 552.8,397.8 553.0,398.0 553.1,398.2 553.1,398.3 553.2,398.5 553.3,398.7 553.5,399.0 553.6,399.2 553.7,399.4 553.7,399.4 553.8,399.6 554.0,399.7 554.1,399.9 554.2,400.1 554.3,400.3 554.4,400.3 554.5,400.4 554.6,400.6 554.7,400.7 554.8,400.9 555.0,401.0 555.1,401.1 555.1,401.1 555.2,401.3 555.3,401.4 555.5,401.5 555.6,401.6 555.7,401.7 555.7,401.7 555.8,401.8 556.0,402.0 556.1,402.1 556.2,402.2 556.4,402.2 556.4,402.3 556.5,402.3 556.6,402.4 556.7,402.5 556.9,402.6 557.0,402.7 557.1,402.7 557.1,402.8 557.2,402.8 557.4,402.9 557.5,403.0 557.6,403.1 557.7,403.1 557.7,403.1 557.9,403.2 558.0,403.3 558.1,403.3 558.2,403.4 558.4,403.4 558.4,403.5 558.5,403.5 558.6,403.6 559.1,403.8 559.8,404.0 560.4,404.2 561.1,404.4 561.8,404.6 562.4,404.7 563.1,404.9 563.8,405.0 564.4,405.1 565.1,405.2 565.8,405.3 566.5,405.4 567.1,405.4 567.8,405.5 568.5,405.6 569.1,405.6 569.8,405.7 570.5,405.7 571.2,405.8 571.8,405.8 572.5,405.8 573.2,405.9 573.8,405.9 574.5,405.9 575.2,406.0 575.8,406.0 576.5,406.0 577.2,406.0 577.9,406.0 578.5,406.1 579.2,406.1 579.9,406.1 580.5,406.1 581.2,406.1 581.9,406.1 582.5,406.1 583.2,406.1 583.9,406.2 584.6,406.2 585.2,406.2 585.9,406.2 586.6,406.2 587.2,406.2 587.9,406.2 588.6,406.2 589.3,406.2 589.9,406.2 590.6,406.2 591.3,406.2 591.9,406.2 592.6,406.2 593.3,406.2 593.9,406.2 594.6,406.2 595.3,406.2 596.0,406.2 596.6,406.2 597.3,406.2 598.0,406.2 598.6,406.2 599.3,406.2 600.0,406.2 600.6,406.2 601.3,406.2 602.0,406.2 602.7,406.2 603.3,406.1 604.0,406.1 604.7,406.1 605.3,406.1 606.0,406.1 606.7,406.1 607.3,406.1 608.0,406.0 608.7,406.0 609.4,406.0 610.0,406.0 610.7,406.0 611.4,405.9 612.0,405.9 612.7,405.9 613.4,405.8 614.1,405.8 614.7,405.8 615.4,405.7 616.1,405.7 616.7,405.6 617.4,405.5 618.1,405.5 618.7,405.4 619.4,405.3 620.1,405.2 620.8,405.1 621.4,405.0 622.1,404.9 622.8,404.8 623.4,404.6 624.1,404.4 624.8,404.2 625.4,404.0 625.6,403.9 625.8,403.8 625.9,403.8 626.0,403.7 626.1,403.7 626.1,403.7 626.3,403.6 626.4,403.6 626.5,403.5 626.6,403.4 626.8,403.4 626.8,403.4 626.9,403.3 627.0,403.2 627.1,403.2 627.3,403.1 627.4,403.0 627.5,403.0 627.5,403.0 627.6,402.9 627.8,402.8 627.9,402.7 628.0,402.6 628.1,402.6 628.2,402.5 628.3,402.4 628.4,402.3 628.5,402.3 628.7,402.2 628.8,402.0 628.8,402.0 628.9,401.9 629.0,401.8 629.2,401.7 629.3,401.6 629.4,401.5 629.5,401.4 629.5,401.3 629.7,401.2 629.8,401.1 629.9,400.9 630.0,400.8 630.1,400.6 630.2,400.6 630.3,400.5 630.4,400.3 630.5,400.1 630.7,399.9 630.8,399.7 630.8,399.7 630.9,399.6 631.0,399.3 631.2,399.1 631.3,398.9 631.4,398.7 631.5,398.6 631.5,398.4 631.7,398.2 631.8,397.9 631.9,397.6 632.0,397.3 632.1,397.1 632.2,397.0 632.3,396.7 632.4,396.4 632.5,396.0 632.7,395.7 632.8,395.3 632.8,395.2 632.9,394.9 633.0,394.4 633.2,394.0 633.3,393.5 633.4,393.0 633.5,392.7 633.5,392.4 633.7,391.9 633.8,391.3 633.9,390.6 634.1,389.9 634.2,389.3 634.2,389.2 634.3,388.4 634.4,387.6 634.6,386.7 634.7,385.8 634.8,384.8 634.8,384.6 634.9,383.7 635.1,382.6 635.2,381.3 635.3,380.0 635.4,378.6 635.5,377.7 635.6,377.0 635.7,375.4 635.8,373.5 635.9,372.4 635.9,370.8 636.1,367.8 636.2,365.1 636.2,364.8 636.3,361.8 636.4,358.8 636.6,355.8 636.7,352.8 636.8,349.8 636.8,349.1 636.9,346.8 637.1,343.8 637.2,340.8 637.3,337.4 637.4,334.0 637.5,332.0 637.6,330.6 637.7,327.1 637.8,323.7 637.9,320.3 638.0,317.5 638.1,316.8 638.2,313.4 638.2,313.1 638.3,309.3 638.4,305.6 638.6,301.9 638.7,298.2 638.8,294.4 638.9,293.5 638.9,290.7 639.0,289.2 639.1,288.8 639.2,288.1 639.3,287.4 639.4,286.7 639.5,286.3 639.6,286.1 639.7,285.4 639.8,284.7 640.0,284.0 640.0,283.7 640.1,285.7 640.2,288.9 640.2,289.1 640.3,292.5 640.5,295.9 640.6,299.2 640.7,302.6 640.8,306.0 640.9,306.9 641.0,309.4 641.1,312.7 641.2,316.1 641.3,317.5 641.3,319.3 641.5,322.4 641.5,324.2 641.6,325.4 641.7,328.5 641.8,331.5 642.0,334.6 642.1,337.6 642.2,340.5 642.2,340.7 642.3,343.7 642.5,346.7 642.6,349.7 642.7,352.7 642.8,355.6 642.9,356.5 643.0,358.6 643.1,361.6 643.2,364.6 643.3,367.6 643.5,370.6 643.5,372.2 643.5,372.6 643.6,373.3 643.7,375.2 643.8,376.8 644.0,378.4 644.1,379.8 644.2,381.1 644.2,381.1 644.3,382.3 644.5,383.5 644.6,384.6 644.7,385.6 644.8,386.5 644.9,386.8 645.0,387.4 645.1,388.2 645.2,388.9 645.3,389.6 645.5,390.3 645.6,390.7 645.6,391.0 645.7,391.6 645.9,392.1 646.0,392.6 646.1,393.1 646.2,393.6 646.2,393.6 646.4,394.1 646.5,394.5 646.6,394.9 646.7,395.3 646.9,395.6 646.9,395.8 647.0,396.0 647.1,396.3 647.2,396.6 647.4,396.9 647.5,397.2 647.6,397.4 647.6,397.5 647.7,397.7 647.9,398.0 648.0,398.2 648.1,398.4 648.2,398.6 648.2,398.6 648.4,398.8 648.5,399.0 648.6,399.2 648.7,399.4 648.9,399.6 648.9,399.6 649.0,399.7 649.1,399.9 649.2,400.0 649.4,400.2 649.5,400.3 649.6,400.4 649.6,400.5 649.7,400.6 649.9,400.7 650.0,400.8 650.1,400.9 650.2,401.0 650.2,401.0 650.4,401.1 650.5,401.2 650.6,401.3 650.7,401.4 650.9,401.5 650.9,401.5 651.0,401.6 651.1,401.7 651.2,401.7 651.4,401.8 651.5,401.9 651.6,401.9 651.6,402.0 651.8,402.0 651.9,402.1 652.0,402.1 652.1,402.2 652.3,402.3 652.3,402.3 652.4,402.3 652.5,402.4 652.6,402.4 652.8,402.5 652.9,402.5 652.9,402.5 653.0,402.5 653.1,402.6 653.3,402.6 653.4,402.6 653.5,402.7 653.6,402.7 653.6,402.7 653.8,402.7 654.3,402.8 654.9,402.9 655.6,403.0 656.3,403.0 657.0,402.9 657.6,402.9 657.7,402.8 657.9,402.8 658.0,402.8 658.1,402.8 658.2,402.7 658.3,402.7 658.4,402.7 658.5,402.7 658.6,402.6 658.7,402.6 658.9,402.6 659.0,402.5 659.0,402.5 659.1,402.5 659.2,402.4 659.4,402.4 659.5,402.3 659.6,402.3 659.6,402.3 659.7,402.2 659.9,402.2 660.0,402.1 660.1,402.1 660.3,402.0 660.3,402.0 660.4,401.9 660.5,401.9 660.6,401.8 660.8,401.7 660.9,401.6 661.0,401.6 661.0,401.5 661.1,401.5 661.3,401.4 661.4,401.3 661.5,401.2 661.6,401.1 661.6,401.1 661.8,401.0 661.9,400.8 662.0,400.7 662.1,400.6 662.3,400.5 662.3,400.4 662.4,400.3 662.5,400.2 662.6,400.0 662.8,399.9 662.9,399.7 663.0,399.6 663.0,399.6 663.1,399.4 663.3,399.2 663.4,399.0 663.5,398.8 663.6,398.6 663.7,398.6 663.8,398.4 663.9,398.1 664.0,397.9 664.1,397.6 664.3,397.4 664.3,397.2 664.4,397.1 664.5,396.8 664.6,396.5 664.8,396.1 664.9,395.8 665.0,395.5 665.0,395.4 665.1,395.0 665.3,394.6 665.4,394.2 665.5,393.7 665.6,393.3 665.7,393.2 665.8,392.8 665.9,392.2 666.0,391.6 666.2,391.0 666.3,390.4 666.3,390.0 666.4,389.7 666.5,388.9 666.7,388.1 666.8,387.3 666.9,386.4 667.0,385.6 667.0,385.4 667.2,384.3 667.3,383.2 667.4,382.0 667.5,380.7 667.7,379.3 667.7,379.1 667.8,377.8 667.9,376.1 668.0,374.3 668.2,372.4 668.3,370.3 668.3,369.2 668.4,368.4 668.4,367.7 668.5,366.0 668.7,364.3 668.8,362.6 668.9,360.9 669.0,359.6 669.0,359.3 669.2,357.6 669.3,355.9 669.4,354.2 669.5,352.5 669.7,350.8 669.7,350.5 669.7,350.4 669.8,347.5 669.9,343.8 670.0,340.1 670.2,336.4 670.3,332.7 670.4,330.8 670.4,329.0 670.5,325.3 670.7,321.6 670.8,317.9 670.9,315.8 671.0,314.0 671.0,313.7 671.2,311.6 671.3,309.4 671.4,307.3 671.5,305.2 671.7,303.1 671.7,302.7 671.8,301.0 671.9,298.9 672.1,296.7 672.2,294.6 672.2,294.2 672.3,297.6 672.4,299.8 672.4,301.8 672.6,306.1 672.7,310.3 672.8,314.6 672.9,318.0 672.9,318.8 673.0,322.3 673.1,322.8 673.2,326.9 673.3,331.0 673.4,335.1 673.6,339.2 673.7,343.2 673.7,344.0 673.8,347.3 673.9,350.6 673.9,350.9 674.1,352.6 674.2,354.3 674.3,356.0 674.4,356.9 674.4,357.7 674.6,359.4 674.7,361.1 674.8,362.8 674.9,364.5 675.0,366.0 675.1,366.2 675.2,367.9 675.2,368.6 675.3,370.5 675.4,372.6 675.6,374.5 675.7,376.3 675.7,376.7 675.8,378.0 675.9,379.5 676.1,381.0 676.2,382.3 676.3,383.5 676.4,384.1 676.4,384.6 676.6,385.7 676.7,386.7 676.8,387.6 676.9,388.4 677.1,389.1 677.1,389.2 677.2,390.0 677.3,390.7 677.4,391.4 677.6,392.0 677.7,392.6 677.7,392.7 677.8,393.1 678.0,393.6 678.1,394.1 678.2,394.6 678.3,395.0 678.4,395.3 678.5,395.5 678.6,395.9 678.7,396.2 678.8,396.6 679.0,396.9 679.1,397.2 679.1,397.2 679.2,397.6 679.3,397.8 679.5,398.1 679.6,398.4 679.7,398.6 679.7,398.7 679.8,398.9 680.0,399.1 680.1,399.3 680.2,399.6 680.3,399.8 680.4,399.9 680.5,400.0 680.6,400.1 680.7,400.3 680.8,400.5 681.0,400.7 681.1,400.8 681.1,400.8 681.2,401.0 681.3,401.1 681.5,401.3 681.6,401.4 681.7,401.5 681.8,401.6 681.8,401.7 682.0,401.8 682.1,401.9 682.2,402.0 682.3,402.1 682.4,402.2 682.5,402.2 682.6,402.3 682.7,402.4 682.8,402.5 683.0,402.6 683.1,402.7 683.1,402.7 683.2,402.8 683.3,402.9 683.5,403.0 683.6,403.0 683.7,403.1 683.8,403.1 683.9,403.2 684.0,403.3 684.1,403.3 684.2,403.4 684.4,403.5 684.4,403.5 684.5,403.5 684.6,403.6 684.7,403.7 684.9,403.7 685.0,403.8 685.1,403.8 685.1,403.8 685.2,403.9 685.4,403.9 685.5,404.0 685.6,404.0 685.7,404.1 685.8,404.1 685.9,404.1 686.4,404.3 687.1,404.5 687.8,404.7 688.5,404.9 689.1,405.0 689.8,405.1 690.5,405.2 691.1,405.3 691.8,405.4 692.5,405.5 693.1,405.6 693.8,405.6 694.5,405.7 695.2,405.8 695.8,405.8 696.5,405.9 697.2,405.9 697.8,405.9 698.5,406.0 699.2,406.0 699.8,406.0 700.5,406.1 701.2,406.1 701.9,406.1 702.5,406.1 703.2,406.1 703.9,406.2 704.5,406.2 705.2,406.2 705.9,406.2 706.6,406.2 707.2,406.2 707.9,406.3 708.6,406.3 709.2,406.3 709.9,406.3 710.6,406.3 711.2,406.3 711.9,406.3 712.6,406.3 713.3,406.3 713.9,406.3 714.6,406.3 715.3,406.3 715.9,406.4 716.6,406.4 717.3,406.4 717.9,406.4 718.6,406.4 719.3,406.4 720.0,406.4 720.6,406.4 721.3,406.4 L721.3,406.5 Z" fill="#00ff00" stroke="none"/>
<path d="M118.7,406.4 119.4,406.4 120.0,406.4 120.7,406.4 121.4,406.4 122.1,406.4 122.7,406.4 123.4,406.4 124.1,406.4 124.7,406.3 125.4,406.3 126.1,406.3 126.7,406.3 127.4,406.3 128.1,406.3 128.8,406.3 129.4,406.3 130.1,406.3 130.8,406.3 131.4,406.3 132.1,406.3 132.8,406.2 133.4,406.2 134.1,406.2 134.8,406.2 135.5,406.2 136.1,406.2 136.8,406.1 137.5,406.1 138.1,406.1 138.8,406.1 139.5,406.1 140.2,406.0 140.8,406.0 141.5,406.0 142.2,405.9 142.8,405.9 143.5,405.9 144.2,405.8 144.8,405.8 145.5,405.7 146.2,405.6 146.9,405.6 147.5,405.5 148.2,405.4 148.9,405.3 149.5,405.2 150.2,405.1 150.9,405.0 151.5,404.9 152.2,404.7 152.9,404.5 153.6,404.3 154.1,404.1 154.2,404.1 154.3,404.1 154.4,404.0 154.5,404.0 154.6,403.9 154.8,403.9 154.9,403.8 154.9,403.8 155.0,403.8 155.1,403.7 155.3,403.7 155.4,403.6 155.5,403.5 155.6,403.5 155.6,403.5 155.8,403.4 155.9,403.3 156.0,403.3 156.1,403.2 156.2,403.1 156.3,403.1 156.4,403.0 156.5,403.0 156.7,402.9 156.8,402.8 156.9,402.7 156.9,402.7 157.0,402.6 157.2,402.5 157.3,402.4 157.4,402.3 157.5,402.2 157.6,402.2 157.7,402.1 157.8,402.0 157.9,401.9 158.0,401.8 158.2,401.7 158.2,401.6 158.3,401.5 158.4,401.4 158.5,401.3 158.7,401.1 158.8,401.0 158.9,400.8 158.9,400.8 159.0,400.7 159.2,400.5 159.3,400.3 159.4,400.1 159.5,400.0 159.6,399.9 159.7,399.8 159.8,399.6 159.9,399.3 160.0,399.1 160.2,398.9 160.3,398.7 160.3,398.6 160.4,398.4 160.5,398.1 160.7,397.8 160.8,397.6 160.9,397.2 160.9,397.2 161.0,396.9 161.2,396.6 161.3,396.2 161.4,395.9 161.5,395.5 161.6,395.3 161.7,395.0 161.8,394.6 161.9,394.1 162.0,393.6 162.2,393.1 162.3,392.7 162.3,392.6 162.4,392.0 162.6,391.4 162.7,390.7 162.8,390.0 162.9,389.2 162.9,389.1 163.1,388.4 163.2,387.6 163.3,386.7 163.4,385.7 163.6,384.6 163.6,384.1 163.7,383.5 163.8,382.3 163.9,381.0 164.1,379.5 164.2,378.0 164.3,376.7 164.3,376.3 164.4,374.5 164.6,372.6 164.7,370.5 164.8,368.6 164.8,367.9 164.9,366.2 165.0,366.0 165.1,364.5 165.2,362.8 165.3,361.1 165.4,359.4 165.6,357.7 165.6,356.9 165.7,356.0 165.8,354.3 165.9,352.6 166.1,350.9 166.1,350.6 166.2,347.3 166.3,344.0 166.3,343.2 166.4,339.2 166.6,335.1 166.7,331.0 166.8,326.9 166.9,322.8 167.0,322.3 167.1,318.8 167.1,318.0 167.2,314.6 167.3,310.3 167.4,306.1 167.6,301.8 167.6,299.8 167.7,297.6 167.8,294.2 167.8,294.6 167.9,296.7 168.1,298.9 168.2,301.0 168.3,302.7 168.3,303.1 168.5,305.2 168.6,307.3 168.7,309.4 168.8,311.6 169.0,313.7 169.0,314.0 169.1,315.8 169.2,317.9 169.3,321.6 169.5,325.3 169.6,329.0 169.6,330.8 169.7,332.7 169.8,336.4 170.0,340.1 170.1,343.8 170.2,347.5 170.3,350.4 170.3,350.5 170.3,350.8 170.5,352.5 170.6,354.2 170.7,355.9 170.8,357.6 171.0,359.3 171.0,359.6 171.1,360.9 171.2,362.6 171.3,364.3 171.5,366.0 171.6,367.7 171.6,368.4 171.7,369.2 171.7,370.3 171.8,372.4 172.0,374.3 172.1,376.1 172.2,377.8 172.3,379.1 172.3,379.3 172.5,380.7 172.6,382.0 172.7,383.2 172.8,384.3 173.0,385.4 173.0,385.6 173.1,386.4 173.2,387.3 173.3,388.1 173.5,388.9 173.6,389.7 173.7,390.0 173.7,390.4 173.8,391.0 174.0,391.6 174.1,392.2 174.2,392.8 174.3,393.2 174.4,393.3 174.5,393.7 174.6,394.2 174.7,394.6 174.9,395.0 175.0,395.4 175.0,395.5 175.1,395.8 175.2,396.1 175.4,396.5 175.5,396.8 175.6,397.1 175.7,397.2 175.7,397.4 175.9,397.6 176.0,397.9 176.1,398.1 176.2,398.4 176.3,398.6 176.4,398.6 176.5,398.8 176.6,399.0 176.7,399.2 176.9,399.4 177.0,399.6 177.0,399.6 177.1,399.7 177.2,399.9 177.4,400.0 177.5,400.2 177.6,400.3 177.7,400.4 177.7,400.5 177.9,400.6 178.0,400.7 178.1,400.8 178.2,401.0 178.4,401.1 178.4,401.1 178.5,401.2 178.6,401.3 178.7,401.4 178.9,401.5 179.0,401.5 179.0,401.6 179.1,401.6 179.2,401.7 179.4,401.8 179.5,401.9 179.6,401.9 179.7,402.0 179.7,402.0 179.9,402.1 180.0,402.1 180.1,402.2 180.3,402.2 180.4,402.3 180.4,402.3 180.5,402.3 180.6,402.4 180.8,402.4 180.9,402.5 181.0,402.5 181.0,402.5 181.1,402.6 181.3,402.6 181.4,402.6 181.5,402.7 181.6,402.7 181.7,402.7 181.8,402.7 181.9,402.8 182.0,402.8 182.1,402.8 182.3,402.8 182.4,402.9 183.0,402.9 183.7,403.0 184.4,403.0 185.1,402.9 185.7,402.8 186.2,402.7 186.4,402.7 186.4,402.7 186.5,402.7 186.6,402.6 186.7,402.6 186.9,402.6 187.0,402.5 187.1,402.5 187.1,402.5 187.2,402.5 187.4,402.4 187.5,402.4 187.6,402.3 187.7,402.3 187.7,402.3 187.9,402.2 188.0,402.1 188.1,402.1 188.2,402.0 188.4,402.0 188.4,401.9 188.5,401.9 188.6,401.8 188.8,401.7 188.9,401.7 189.0,401.6 189.1,401.5 189.1,401.5 189.3,401.4 189.4,401.3 189.5,401.2 189.6,401.1 189.8,401.0 189.8,401.0 189.9,400.9 190.0,400.8 190.1,400.7 190.3,400.6 190.4,400.5 190.4,400.4 190.5,400.3 190.6,400.2 190.8,400.0 190.9,399.9 191.0,399.7 191.1,399.6 191.1,399.6 191.3,399.4 191.4,399.2 191.5,399.0 191.6,398.8 191.8,398.6 191.8,398.6 191.9,398.4 192.0,398.2 192.1,398.0 192.3,397.7 192.4,397.5 192.4,397.4 192.5,397.2 192.6,396.9 192.8,396.6 192.9,396.3 193.0,396.0 193.1,395.8 193.1,395.6 193.3,395.3 193.4,394.9 193.5,394.5 193.6,394.1 193.8,393.6 193.8,393.6 193.9,393.1 194.0,392.6 194.1,392.1 194.3,391.6 194.4,391.0 194.4,390.7 194.5,390.3 194.7,389.6 194.8,388.9 194.9,388.2 195.0,387.4 195.1,386.8 195.2,386.5 195.3,385.6 195.4,384.6 195.5,383.5 195.7,382.3 195.8,381.1 195.8,381.1 195.9,379.8 196.0,378.4 196.2,376.8 196.3,375.2 196.4,373.3 196.5,372.6 196.5,372.2 196.5,370.6 196.7,367.6 196.8,364.6 196.9,361.6 197.0,358.6 197.1,356.5 197.2,355.6 197.3,352.7 197.4,349.7 197.5,346.7 197.7,343.7 197.8,340.7 197.8,340.5 197.9,337.6 198.0,334.6 198.2,331.5 198.3,328.5 198.4,325.4 198.5,324.2 198.5,322.4 198.7,319.3 198.7,317.5 198.8,316.1 198.9,312.7 199.0,309.4 199.1,306.9 199.2,306.0 199.3,302.6 199.4,299.2 199.5,295.9 199.7,292.5 199.8,289.1 199.8,288.9 199.9,285.7 200.0,283.7 200.0,284.0 200.2,284.7 200.3,285.4 200.4,286.1 200.5,286.3 200.6,286.7 200.7,287.4 200.8,288.1 200.9,288.8 201.0,289.2 201.1,290.7 201.1,293.5 201.2,294.4 201.3,298.2 201.4,301.9 201.6,305.6 201.7,309.3 201.8,313.1 201.8,313.4 201.9,316.8 202.0,317.5 202.1,320.3 202.2,323.7 202.3,327.1 202.4,330.6 202.5,332.0 202.6,334.0 202.7,337.4 202.8,340.8 202.9,343.8 203.1,346.8 203.2,349.1 203.2,349.8 203.3,352.8 203.4,355.8 203.6,358.8 203.7,361.8 203.8,364.8 203.8,365.1 203.9,367.8 204.1,370.8 204.1,372.4 204.2,373.5 204.3,375.4 204.4,377.0 204.5,377.7 204.6,378.6 204.7,380.0 204.8,381.3 204.9,382.6 205.1,383.7 205.2,384.6 205.2,384.8 205.3,385.8 205.4,386.7 205.6,387.6 205.7,388.4 205.8,389.2 205.8,389.3 205.9,389.9 206.1,390.6 206.2,391.3 206.3,391.9 206.5,392.4 206.5,392.7 206.6,393.0 206.7,393.5 206.8,394.0 207.0,394.4 207.1,394.9 207.2,395.2 207.2,395.3 207.3,395.7 207.5,396.0 207.6,396.4 207.7,396.7 207.8,397.0 207.9,397.1 208.0,397.3 208.1,397.6 208.2,397.9 208.3,398.2 208.5,398.4 208.5,398.6 208.6,398.7 208.7,398.9 208.8,399.1 209.0,399.3 209.1,399.6 209.2,399.7 209.2,399.7 209.3,399.9 209.5,400.1 209.6,400.3 209.7,400.5 209.8,400.6 209.9,400.6 210.0,400.8 210.1,400.9 210.2,401.1 210.3,401.2 210.5,401.3 210.5,401.4 210.6,401.5 210.7,401.6 210.8,401.7 211.0,401.8 211.1,401.9 211.2,402.0 211.2,402.0 211.3,402.2 211.5,402.3 211.6,402.3 211.7,402.4 211.8,402.5 211.9,402.6 212.0,402.6 212.1,402.7 212.2,402.8 212.4,402.9 212.5,403.0 212.5,403.0 212.6,403.0 212.7,403.1 212.9,403.2 213.0,403.2 213.1,403.3 213.2,403.4 213.2,403.4 213.4,403.4 213.5,403.5 213.6,403.6 213.7,403.6 213.9,403.7 213.9,403.7 214.0,403.7 214.1,403.8 214.2,403.8 214.4,403.9 214.6,404.0 215.2,404.2 215.9,404.4 216.6,404.6 217.2,404.8 217.9,404.9 218.6,405.0 219.2,405.1 219.9,405.2 220.6,405.3 221.3,405.4 221.9,405.5 222.6,405.5 223.3,405.6 223.9,405.7 224.6,405.7 225.3,405.8 225.9,405.8 226.6,405.8 227.3,405.9 228.0,405.9 228.6,405.9 229.3,406.0 230.0,406.0 230.6,406.0 231.3,406.0 232.0,406.0 232.7,406.1 233.3,406.1 234.0,406.1 234.7,406.1 235.3,406.1 236.0,406.1 236.7,406.1 237.3,406.2 238.0,406.2 238.7,406.2 239.4,406.2 240.0,406.2 240.7,406.2 241.4,406.2 242.0,406.2 242.7,406.2 243.4,406.2 244.0,406.2 244.7,406.2 245.4,406.2 246.1,406.2 246.7,406.2 247.4,406.2 248.1,406.2 248.7,406.2 249.4,406.2 250.1,406.2 250.7,406.2 251.4,406.2 252.1,406.2 252.8,406.2 253.4,406.2 254.1,406.2 254.8,406.2 255.4,406.2 256.1,406.2 256.8,406.1 257.5,406.1 258.1,406.1 258.8,406.1 259.5,406.1 260.1,406.1 260.8,406.1 261.5,406.1 262.1,406.0 262.8,406.0 263.5,406.0 264.2,406.0 264.8,406.0 265.5,405.9 266.2,405.9 266.8,405.9 267.5,405.8 268.2,405.8 268.8,405.8 269.5,405.7 270.2,405.7 270.9,405.6 271.5,405.6 272.2,405.5 272.9,405.4 273.5,405.4 274.2,405.3 274.9,405.2 275.6,405.1 276.2,405.0 276.9,404.9 277.6,404.7 278.2,404.6 278.9,404.4 279.6,404.2 280.2,404.0 280.9,403.8 281.4,403.6 281.5,403.5 281.6,403.5 281.6,403.4 281.8,403.4 281.9,403.3 282.0,403.3 282.1,403.2 282.3,403.1 282.3,403.1 282.4,403.1 282.5,403.0 282.6,402.9 282.8,402.8 282.9,402.8 282.9,402.7 283.0,402.7 283.1,402.6 283.3,402.5 283.4,402.4 283.5,402.3 283.6,402.3 283.6,402.2 283.8,402.2 283.9,402.1 284.0,402.0 284.2,401.8 284.3,401.7 284.3,401.7 284.4,401.6 284.5,401.5 284.7,401.4 284.8,401.3 284.9,401.1 284.9,401.1 285.0,401.0 285.2,400.9 285.3,400.7 285.4,400.6 285.5,400.4 285.6,400.3 285.7,400.3 285.8,400.1 285.9,399.9 286.0,399.7 286.2,399.6 286.3,399.4 286.3,399.4 286.4,399.2 286.5,399.0 286.7,398.7 286.8,398.5 286.9,398.3 286.9,398.2 287.0,398.0 287.2,397.8 287.3,397.5 287.4,397.2 287.5,396.9 287.6,396.7 287.7,396.6 287.8,396.3 287.9,395.9 288.0,395.6 288.2,395.2 288.3,394.8 288.3,394.8 288.4,394.4 288.5,394.0 288.7,393.5 288.8,393.0 288.9,392.5 289.0,392.4 289.0,392.0 289.2,391.4 289.3,390.8 289.4,390.2 289.5,389.5 289.6,389.1 289.7,388.8 289.8,388.1 289.9,387.3 290.1,386.4 290.2,385.5 290.3,384.6 290.3,384.5 290.4,383.5 290.6,382.4 290.7,381.2 290.8,379.9 290.9,378.5 291.0,378.1 291.1,377.0 291.2,375.4 291.3,373.7 291.4,371.8 291.6,369.8 291.6,368.5 291.7,367.6 291.8,365.3 291.9,362.7 292.0,360.4 292.1,359.5 292.2,356.9 292.3,354.4 292.3,354.3 292.4,351.8 292.6,349.2 292.6,347.6 292.7,346.6 292.8,343.9 292.9,341.2 293.0,340.4 293.1,338.5 293.2,335.9 293.3,333.2 293.3,332.6 293.4,330.5 293.6,327.8 293.6,326.1 293.7,325.2 293.8,322.5 293.9,319.8 294.0,317.7 294.1,316.8 294.2,312.6 294.3,308.3 294.3,308.3 294.4,304.0 294.6,299.8 294.7,295.5 294.8,291.3 294.9,287.0 295.0,285.6 295.1,282.8 295.2,278.5 295.3,274.3 295.4,270.0 295.6,274.3 295.7,277.1 295.7,278.5 295.8,282.8 296.0,287.0 296.1,291.2 296.2,295.5 296.3,299.7 296.3,299.8 296.5,304.0 296.6,308.2 296.7,312.5 296.8,316.7 296.9,317.6 297.0,319.7 297.0,320.7 297.1,322.4 297.2,325.1 297.3,327.7 297.5,330.4 297.6,332.5 297.6,333.1 297.7,334.9 297.7,335.7 297.8,338.4 298.0,341.1 298.1,343.8 298.2,346.4 298.3,347.5 298.3,349.0 298.3,349.1 298.5,351.6 298.6,354.2 298.7,356.7 298.8,359.3 298.9,360.3 299.0,362.5 299.0,363.5 299.1,365.1 299.2,367.4 299.3,369.6 299.5,371.6 299.6,373.5 299.7,374.7 299.7,375.2 299.8,376.8 300.0,378.3 300.1,379.6 300.2,380.9 300.3,382.1 300.4,382.2 300.5,383.2 300.6,384.2 300.7,385.2 300.8,386.1 301.0,387.0 301.0,387.3 301.1,387.8 301.2,388.5 301.4,389.2 301.5,389.9 301.6,390.5 301.7,390.9 301.7,391.1 301.9,391.7 302.0,392.2 302.1,392.7 302.2,393.2 302.4,393.6 302.4,393.6 302.5,394.0 302.6,394.4 302.7,394.8 302.9,395.2 303.0,395.5 303.0,395.7 303.1,395.9 303.2,396.2 303.4,396.5 303.5,396.8 303.6,397.0 303.7,397.2 303.7,397.3 303.9,397.5 304.0,397.8 304.1,398.0 304.2,398.2 304.4,398.4 304.4,398.4 304.5,398.6 304.6,398.8 304.7,399.0 304.9,399.2 305.0,399.3 305.0,399.4 305.1,399.5 305.2,399.7 305.4,399.8 305.5,400.0 305.6,400.1 305.7,400.2 305.7,400.2 305.9,400.4 306.0,400.5 306.1,400.6 306.2,400.7 306.4,400.8 306.4,400.8 306.5,400.9 306.6,401.0 306.7,401.1 306.9,401.2 307.0,401.3 307.1,401.3 307.1,401.4 307.3,401.5 307.4,401.5 307.5,401.6 307.6,401.7 307.7,401.7 307.8,401.7 307.9,401.8 308.0,401.9 308.1,401.9 308.3,402.0 308.4,402.0 308.4,402.1 308.5,402.1 308.6,402.2 308.8,402.2 308.9,402.3 309.0,402.3 309.1,402.3 309.1,402.3 309.3,402.4 309.4,402.4 309.5,402.5 309.7,402.5 310.4,402.7 311.1,402.8 311.7,402.8 312.4,402.8 313.1,402.8 313.6,402.7 313.8,402.7 313.8,402.7 313.9,402.7 314.0,402.7 314.1,402.7 314.3,402.6 314.4,402.6 314.4,402.6 314.5,402.6 314.6,402.6 314.8,402.5 314.9,402.5 315.0,402.5 315.1,402.4 315.1,402.4 315.3,402.4 315.4,402.3 315.5,402.3 315.6,402.2 315.8,402.2 315.8,402.2 315.9,402.1 316.0,402.1 316.2,402.0 316.3,402.0 316.4,401.9 316.4,401.9 316.5,401.8 316.7,401.8 316.8,401.7 316.9,401.6 317.0,401.6 317.1,401.5 317.2,401.5 317.3,401.4 317.4,401.3 317.5,401.2 317.7,401.1 317.8,401.0 317.8,401.0 317.9,400.9 318.0,400.8 318.2,400.7 318.3,400.5 318.4,400.4 318.4,400.4 318.5,400.3 318.7,400.1 318.8,400.0 318.9,399.8 319.0,399.7 319.1,399.6 319.2,399.5 319.3,399.3 319.4,399.2 319.5,399.0 319.7,398.8 319.8,398.6 319.8,398.6 319.9,398.3 320.0,398.1 320.2,397.9 320.3,397.6 320.4,397.3 320.5,397.2 320.5,397.1 320.7,396.8 320.8,396.4 320.9,396.1 321.0,395.7 321.1,395.5 321.2,395.4 321.3,395.0 321.4,394.6 321.5,394.1 321.7,393.7 321.8,393.2 321.8,393.2 321.9,392.6 322.1,392.1 322.2,391.5 322.3,390.8 322.4,390.2 322.5,389.9 322.6,389.4 322.7,388.7 322.8,387.8 322.9,387.0 323.1,386.0 323.1,385.3 323.2,385.0 323.3,383.9 323.4,382.7 323.6,381.4 323.7,380.0 323.8,378.5 323.8,378.5 323.9,376.9 324.1,375.1 324.2,373.2 324.3,371.5 324.3,370.8 324.4,368.8 324.5,368.1 324.6,366.9 324.7,365.0 324.8,363.1 324.9,361.9 324.9,361.1 325.1,359.1 325.2,357.7 325.2,357.1 325.3,355.1 325.4,353.1 325.6,351.1 325.6,350.7 325.7,349.1 325.8,347.1 325.8,347.0 325.9,345.1 326.1,343.1 326.2,341.1 326.3,339.5 326.3,338.9 326.4,335.7 326.5,334.4 326.6,332.5 326.7,329.3 326.8,326.1 326.9,322.9 327.1,319.7 327.2,317.4 327.2,316.5 327.3,313.4 327.4,310.2 327.6,307.0 327.7,303.8 327.8,307.0 327.8,307.2 328.0,310.2 328.1,313.4 328.2,316.6 328.3,319.8 328.5,323.0 328.5,324.3 328.6,326.2 328.7,329.3 328.8,332.5 329.0,335.7 329.1,338.9 329.1,339.6 329.2,340.7 329.2,341.2 329.3,343.2 329.5,345.2 329.6,347.2 329.7,349.2 329.8,350.8 329.8,351.2 329.8,351.4 330.0,353.2 330.1,355.2 330.2,357.2 330.3,359.2 330.5,361.2 330.5,362.0 330.5,362.1 330.6,363.2 330.7,365.1 330.8,367.1 331.0,369.0 331.1,370.9 331.1,371.6 331.2,372.8 331.2,373.3 331.3,375.3 331.5,377.1 331.6,378.7 331.7,380.2 331.8,381.6 331.9,381.7 332.0,382.9 332.1,384.1 332.2,385.2 332.3,386.2 332.5,387.2 332.5,387.6 332.6,388.1 332.7,388.9 332.8,389.7 333.0,390.4 333.1,391.1 333.2,391.6 333.2,391.8 333.3,392.4 333.5,392.9 333.6,393.5 333.7,394.0 333.9,394.5 333.9,394.5 334.0,394.9 334.1,395.3 334.2,395.7 334.4,396.1 334.5,396.5 334.5,396.6 334.6,396.8 334.7,397.1 334.9,397.4 335.0,397.7 335.1,398.0 335.2,398.2 335.2,398.3 335.4,398.5 335.5,398.8 335.6,399.0 335.7,399.2 335.9,399.4 335.9,399.5 336.0,399.7 336.1,399.8 336.2,400.0 336.4,400.2 336.5,400.4 336.5,400.5 336.6,400.5 336.7,400.7 336.9,400.8 337.0,401.0 337.1,401.1 337.2,401.2 337.2,401.3 337.4,401.4 337.5,401.5 337.6,401.6 337.7,401.8 337.9,401.9 337.9,401.9 338.0,402.0 338.1,402.1 338.2,402.2 338.4,402.3 338.5,402.4 338.6,402.4 338.6,402.4 338.7,402.5 338.9,402.6 339.0,402.7 339.1,402.8 339.2,402.8 339.2,402.9 339.4,402.9 339.5,403.0 339.6,403.1 339.8,403.1 339.9,403.2 339.9,403.2 340.0,403.3 340.1,403.3 340.3,403.4 340.4,403.4 340.5,403.5 340.6,403.5 340.6,403.5 340.8,403.6 340.9,403.6 341.0,403.7 341.1,403.7 341.2,403.8 341.3,403.8 341.4,403.8 341.5,403.9 341.6,403.9 341.8,404.0 341.9,404.0 342.6,404.2 343.3,404.4 343.9,404.5 344.6,404.7 345.3,404.8 345.9,404.9 346.6,405.0 347.3,405.0 347.9,405.1 348.6,405.2 349.3,405.2 350.0,405.3 350.6,405.3 351.3,405.4 352.0,405.4 352.6,405.4 353.3,405.5 354.0,405.5 354.6,405.5 355.3,405.5 356.0,405.5 356.7,405.5 357.3,405.5 358.0,405.6 358.7,405.6 359.3,405.6 360.0,405.6 360.7,405.6 361.3,405.6 362.0,405.6 362.7,405.6 363.4,405.6 364.0,405.6 364.7,405.5 365.4,405.5 366.0,405.5 366.7,405.5 367.4,405.5 368.1,405.5 368.7,405.5 369.4,405.5 370.1,405.4 370.7,405.4 371.4,405.4 372.1,405.4 372.7,405.4 373.4,405.3 374.1,405.3 374.8,405.3 375.4,405.2 376.1,405.2 376.8,405.2 377.4,405.1 378.1,405.1 378.8,405.1 379.4,405.0 380.1,405.0 380.8,404.9 381.5,404.9 382.1,404.8 382.8,404.8 383.5,404.7 384.1,404.6 384.8,404.6 385.5,404.5 386.1,404.4 386.8,404.4 387.5,404.3 388.2,404.2 388.8,404.1 389.5,404.0 390.2,403.9 390.8,403.8 391.5,403.6 392.2,403.5 392.9,403.4 393.5,403.2 394.2,403.0 394.9,402.9 395.5,402.7 396.2,402.4 396.9,402.2 397.5,402.0 398.2,401.7 398.9,401.4 399.6,401.1 400.2,400.7 400.9,400.3 401.6,399.9 402.2,399.4 402.9,398.9 403.6,398.2 404.2,397.6 404.9,396.8 405.6,395.9 405.9,395.4 406.1,395.2 406.2,395.0 406.3,394.9 406.3,394.8 406.4,394.6 406.6,394.4 406.7,394.2 406.8,394.0 406.9,393.8 406.9,393.8 407.1,393.5 407.2,393.3 407.3,393.0 407.4,392.8 407.6,392.5 407.6,392.5 407.7,392.3 407.8,392.0 407.9,391.7 408.1,391.4 408.2,391.1 408.3,390.9 408.3,390.8 408.5,390.5 408.6,390.1 408.7,389.8 408.8,389.4 408.9,389.1 409.0,389.1 409.1,388.7 409.2,388.3 409.3,387.9 409.5,387.5 409.6,387.1 409.6,387.0 409.7,386.6 409.8,386.2 410.0,385.7 410.1,385.2 410.2,384.7 410.3,384.4 410.3,384.2 410.5,383.6 410.6,383.1 410.7,382.5 410.8,381.9 411.0,381.3 411.0,381.2 411.1,380.6 411.2,379.9 411.3,379.2 411.5,378.4 411.6,377.6 411.6,377.4 411.7,376.8 411.8,376.0 412.0,375.1 412.1,374.2 412.2,373.2 412.3,372.6 412.3,372.2 412.5,371.1 412.6,370.0 412.7,368.8 412.8,367.6 413.0,366.4 413.0,366.3 413.1,365.0 413.2,363.5 413.3,362.0 413.5,360.4 413.6,358.8 413.6,358.3 413.7,357.0 413.8,355.1 414.0,353.1 414.1,351.0 414.2,348.7 414.3,347.3 414.4,346.3 414.5,343.8 414.6,341.0 414.7,338.1 414.9,335.0 415.0,331.8 415.0,331.6 415.1,328.0 415.2,324.1 415.4,319.9 415.5,315.4 415.6,310.4 415.6,308.9 415.7,305.1 415.9,299.2 416.0,292.8 416.1,285.8 416.2,278.1 416.3,272.8 416.4,269.6 416.5,260.2 416.6,249.8 416.7,238.2 416.9,225.1 417.0,210.9 417.0,210.5 417.1,193.9 417.2,175.1 417.4,153.5 417.5,128.8 417.6,100.1 417.7,90.2 417.7,66.6 417.9,27.2 418.0,17.0 418.1,17.0 418.2,17.0 418.3,17.0 418.4,17.0 418.5,17.0 418.6,17.0 418.7,17.0 418.9,17.0 419.0,17.0 419.0,17.0 419.1,17.0 419.2,17.0 419.4,17.0 419.5,17.0 419.6,17.0 419.7,17.0 419.7,17.0 419.9,17.0 420.0,17.0 420.1,17.0 420.3,17.0 420.3,17.0 420.4,17.0 420.5,17.0 420.6,17.0 420.8,17.0 420.9,17.0 421.0,17.0 421.0,17.0 421.1,17.0 421.3,17.0 421.4,17.0 421.5,17.0 421.6,17.0 421.7,17.0 421.8,17.0 421.9,17.0 422.0,17.0 422.1,27.2 422.3,66.6 422.3,90.2 422.4,100.1 422.5,128.8 422.6,153.5 422.8,175.1 422.9,193.9 423.0,210.5 423.0,210.9 423.1,225.1 423.3,238.2 423.4,249.8 423.5,260.2 423.6,269.6 423.7,272.8 423.8,278.1 423.9,285.8 424.0,292.8 424.1,299.2 424.3,305.1 424.4,308.9 424.4,310.4 424.5,315.4 424.6,319.9 424.8,324.1 424.9,328.0 425.0,331.6 425.0,331.8 425.1,335.0 425.3,338.1 425.4,341.0 425.5,343.8 425.6,346.3 425.7,347.3 425.8,348.7 425.9,351.0 426.0,353.1 426.2,355.1 426.3,357.0 426.4,358.3 426.4,358.8 426.5,360.4 426.7,362.0 426.8,363.5 426.9,365.0 427.0,366.3 427.0,366.4 427.2,367.6 427.3,368.8 427.4,370.0 427.5,371.1 427.7,372.2 427.7,372.6 427.8,373.2 427.9,374.2 428.0,375.1 428.2,376.0 428.3,376.8 428.4,377.4 428.4,377.6 428.5,378.4 428.7,379.2 428.8,379.9 428.9,380.6 429.0,381.2 429.0,381.3 429.2,381.9 429.3,382.5 429.4,383.1 429.5,383.6 429.7,384.2 429.7,384.4 429.8,384.7 429.9,385.2 430.0,385.7 430.2,386.2 430.3,386.6 430.4,387.0 430.4,387.1 430.5,387.5 430.7,387.9 430.8,388.3 430.9,388.7 431.0,389.1 431.1,389.1 431.2,389.4 431.3,389.8 431.4,390.1 431.5,390.5 431.7,390.8 431.7,390.9 431.8,391.1 431.9,391.4 432.1,391.7 432.2,392.0 432.3,392.3 432.4,392.5 432.4,392.5 432.6,392.8 432.7,393.0 432.8,393.3 432.9,393.5 433.1,393.8 433.1,393.8 433.2,394.0 433.3,394.2 433.4,394.4 433.6,394.6 433.7,394.8 433.7,394.9 433.8,395.0 433.9,395.2 434.1,395.4 434.4,395.9 435.1,396.8 435.8,397.6 436.4,398.2 437.1,398.9 437.8,399.4 438.4,399.9 439.1,400.3 439.8,400.7 440.4,401.1 441.1,401.4 441.8,401.7 442.5,402.0 443.1,402.2 443.8,402.4 444.5,402.7 445.1,402.9 445.8,403.0 446.5,403.2 447.1,403.4 447.8,403.5 448.5,403.6 449.2,403.8 449.8,403.9 450.5,404.0 451.2,404.1 451.8,404.2 452.5,404.3 453.2,404.4 453.9,404.4 454.5,404.5 455.2,404.6 455.9,404.6 456.5,404.7 457.2,404.8 457.9,404.8 458.5,404.9 459.2,404.9 459.9,405.0 460.6,405.0 461.2,405.1 461.9,405.1 462.6,405.1 463.2,405.2 463.9,405.2 464.6,405.2 465.2,405.3 465.9,405.3 466.6,405.3 467.3,405.4 467.9,405.4 468.6,405.4 469.3,405.4 469.9,405.4 470.6,405.5 471.3,405.5 471.9,405.5 472.6,405.5 473.3,405.5 474.0,405.5 474.6,405.5 475.3,405.5 476.0,405.6 476.6,405.6 477.3,405.6 478.0,405.6 478.7,405.6 479.3,405.6 480.0,405.6 480.7,405.6 481.3,405.6 482.0,405.6 482.7,405.5 483.3,405.5 484.0,405.5 484.7,405.5 485.4,405.5 486.0,405.5 486.7,405.5 487.4,405.4 488.0,405.4 488.7,405.4 489.4,405.3 490.0,405.3 490.7,405.2 491.4,405.2 492.1,405.1 492.7,405.0 493.4,405.0 494.1,404.9 494.7,404.8 495.4,404.7 496.1,404.5 496.7,404.4 497.4,404.2 498.1,404.0 498.2,404.0 498.4,403.9 498.5,403.9 498.6,403.8 498.7,403.8 498.8,403.8 498.9,403.7 499.0,403.7 499.1,403.6 499.2,403.6 499.4,403.5 499.4,403.5 499.5,403.5 499.6,403.4 499.7,403.4 499.9,403.3 500.0,403.3 500.1,403.2 500.1,403.2 500.2,403.1 500.4,403.1 500.5,403.0 500.6,402.9 500.8,402.9 500.8,402.8 500.9,402.8 501.0,402.7 501.1,402.6 501.3,402.5 501.4,402.4 501.4,402.4 501.5,402.4 501.6,402.3 501.8,402.2 501.9,402.1 502.0,402.0 502.1,401.9 502.1,401.9 502.3,401.8 502.4,401.6 502.5,401.5 502.6,401.4 502.8,401.3 502.8,401.2 502.9,401.1 503.0,401.0 503.1,400.8 503.3,400.7 503.4,400.5 503.5,400.5 503.5,400.4 503.6,400.2 503.8,400.0 503.9,399.8 504.0,399.7 504.1,399.5 504.1,399.4 504.3,399.2 504.4,399.0 504.5,398.8 504.6,398.5 504.8,398.3 504.8,398.2 504.9,398.0 505.0,397.7 505.1,397.4 505.3,397.1 505.4,396.8 505.5,396.6 505.5,396.5 505.6,396.1 505.8,395.7 505.9,395.3 506.0,394.9 506.1,394.5 506.1,394.5 506.3,394.0 506.4,393.5 506.5,392.9 506.7,392.4 506.8,391.8 506.8,391.6 506.9,391.1 507.0,390.4 507.2,389.7 507.3,388.9 507.4,388.1 507.5,387.6 507.5,387.2 507.7,386.2 507.8,385.2 507.9,384.1 508.0,382.9 508.1,381.7 508.2,381.6 508.3,380.2 508.4,378.7 508.5,377.1 508.7,375.3 508.8,373.3 508.8,372.8 508.9,371.6 508.9,370.9 509.0,369.0 509.2,367.1 509.3,365.1 509.4,363.2 509.5,362.1 509.5,362.0 509.5,361.2 509.7,359.2 509.8,357.2 509.9,355.2 510.0,353.2 510.2,351.4 510.2,351.2 510.2,350.8 510.3,349.2 510.4,347.2 510.5,345.2 510.7,343.2 510.8,341.2 510.8,340.7 510.9,339.6 510.9,338.9 511.0,335.7 511.2,332.5 511.3,329.3 511.4,326.2 511.5,324.3 511.5,323.0 511.7,319.8 511.8,316.6 511.9,313.4 512.0,310.2 512.2,307.2 512.2,307.0 512.3,303.8 512.4,307.0 512.6,310.2 512.7,313.4 512.8,316.6 512.8,317.4 512.9,319.7 513.1,322.9 513.2,326.1 513.3,329.3 513.4,332.5 513.5,334.4 513.6,335.7 513.7,338.9 513.7,339.5 513.8,341.1 513.9,343.1 514.1,345.1 514.2,347.0 514.2,347.1 514.3,349.1 514.4,350.7 514.4,351.1 514.6,353.1 514.7,355.1 514.8,357.1 514.8,357.7 514.9,359.1 515.1,361.1 515.1,361.9 515.2,363.1 515.3,365.0 515.4,366.9 515.5,368.1 515.6,368.8 515.7,370.8 515.7,371.5 515.8,373.2 515.9,375.1 516.1,376.9 516.2,378.5 516.2,378.5 516.3,380.0 516.4,381.4 516.6,382.7 516.7,383.9 516.8,385.0 516.9,385.3 516.9,386.0 517.1,387.0 517.2,387.8 517.3,388.7 517.4,389.4 517.5,389.9 517.6,390.2 517.7,390.8 517.8,391.5 517.9,392.1 518.1,392.6 518.2,393.2 518.2,393.2 518.3,393.7 518.5,394.1 518.6,394.6 518.7,395.0 518.8,395.4 518.9,395.5 519.0,395.7 519.1,396.1 519.2,396.4 519.3,396.8 519.5,397.1 519.5,397.2 519.6,397.3 519.7,397.6 519.8,397.9 520.0,398.1 520.1,398.3 520.2,398.6 520.2,398.6 520.3,398.8 520.5,399.0 520.6,399.2 520.7,399.3 520.8,399.5 520.9,399.6 521.0,399.7 521.1,399.8 521.2,400.0 521.3,400.1 521.5,400.3 521.6,400.4 521.6,400.4 521.7,400.5 521.8,400.7 522.0,400.8 522.1,400.9 522.2,401.0 522.2,401.0 522.3,401.1 522.5,401.2 522.6,401.3 522.7,401.4 522.8,401.5 522.9,401.5 523.0,401.6 523.1,401.6 523.2,401.7 523.3,401.8 523.5,401.8 523.6,401.9 523.6,401.9 523.7,402.0 523.8,402.0 524.0,402.1 524.1,402.1 524.2,402.2 524.2,402.2 524.4,402.2 524.5,402.3 524.6,402.3 524.7,402.4 524.9,402.4 524.9,402.4 525.0,402.5 525.1,402.5 525.2,402.5 525.4,402.6 525.5,402.6 525.6,402.6 525.6,402.6 525.7,402.6 525.9,402.7 526.0,402.7 526.1,402.7 526.2,402.7 526.2,402.7 526.4,402.7 526.9,402.8 527.6,402.8 528.3,402.8 528.9,402.8 529.6,402.7 530.3,402.5 530.5,402.5 530.6,402.4 530.7,402.4 530.9,402.3 530.9,402.3 531.0,402.3 531.1,402.3 531.2,402.2 531.4,402.2 531.5,402.1 531.6,402.1 531.6,402.0 531.7,402.0 531.9,401.9 532.0,401.9 532.1,401.8 532.2,401.7 532.3,401.7 532.4,401.7 532.5,401.6 532.6,401.5 532.7,401.5 532.9,401.4 532.9,401.3 533.0,401.3 533.1,401.2 533.3,401.1 533.4,401.0 533.5,400.9 533.6,400.8 533.6,400.8 533.8,400.7 533.9,400.6 534.0,400.5 534.1,400.4 534.3,400.2 534.3,400.2 534.4,400.1 534.5,400.0 534.6,399.8 534.8,399.7 534.9,399.5 535.0,399.4 535.0,399.3 535.1,399.2 535.3,399.0 535.4,398.8 535.5,398.6 535.6,398.4 535.6,398.4 535.8,398.2 535.9,398.0 536.0,397.8 536.1,397.5 536.3,397.3 536.3,397.2 536.4,397.0 536.5,396.8 536.6,396.5 536.8,396.2 536.9,395.9 537.0,395.7 537.0,395.5 537.1,395.2 537.3,394.8 537.4,394.4 537.5,394.0 537.6,393.6 537.6,393.6 537.8,393.2 537.9,392.7 538.0,392.2 538.1,391.7 538.3,391.1 538.3,390.9 538.4,390.5 538.5,389.9 538.6,389.2 538.8,388.5 538.9,387.8 539.0,387.3 539.0,387.0 539.2,386.1 539.3,385.2 539.4,384.2 539.5,383.2 539.6,382.2 539.7,382.1 539.8,380.9 539.9,379.6 540.0,378.3 540.2,376.8 540.3,375.2 540.3,374.7 540.4,373.5 540.5,371.6 540.7,369.6 540.8,367.4 540.9,365.1 541.0,363.5 541.0,362.5 541.1,360.3 541.2,359.3 541.3,356.7 541.4,354.2 541.5,351.6 541.7,349.1 541.7,349.0 541.7,347.5 541.8,346.4 541.9,343.8 542.0,341.1 542.2,338.4 542.3,335.7 542.3,334.9 542.4,333.1 542.4,332.5 542.5,330.4 542.7,327.7 542.8,325.1 542.9,322.4 543.0,320.7 543.0,319.7 543.1,317.6 543.2,316.7 543.3,312.5 543.4,308.2 543.5,304.0 543.7,299.8 543.7,299.7 543.8,295.5 543.9,291.2 544.0,287.0 544.2,282.7 544.3,278.5 544.3,277.1 544.4,274.2 544.5,270.0 544.7,274.3 544.8,278.5 544.9,282.8 545.0,285.6 545.1,287.0 545.2,291.3 545.3,295.5 545.4,299.8 545.6,304.0 545.7,308.3 545.7,308.3 545.8,312.6 545.9,316.8 546.0,317.7 546.1,319.8 546.2,322.5 546.3,325.2 546.4,326.1 546.4,327.8 546.6,330.5 546.7,332.6 546.7,333.2 546.8,335.9 546.9,338.5 547.0,340.4 547.1,341.2 547.2,343.9 547.3,346.6 547.4,347.6 547.4,349.2 547.6,351.8 547.7,354.3 547.7,354.4 547.8,356.9 547.9,359.5 548.0,360.4 548.1,362.7 548.2,365.3 548.3,367.6 548.4,368.5 548.4,369.8 548.6,371.8 548.7,373.7 548.8,375.4 548.9,377.0 549.0,378.1 549.1,378.5 549.2,379.9 549.3,381.2 549.4,382.4 549.6,383.5 549.7,384.5 549.7,384.6 549.8,385.5 549.9,386.4 550.1,387.3 550.2,388.1 550.3,388.8 550.4,389.1 550.5,389.5 550.6,390.2 550.7,390.8 550.8,391.4 551.0,392.0 551.0,392.4 551.1,392.5 551.2,393.0 551.3,393.5 551.5,394.0 551.6,394.4 551.7,394.8 551.7,394.8 551.8,395.2 552.0,395.6 552.1,395.9 552.2,396.3 552.3,396.6 552.4,396.7 552.5,396.9 552.6,397.2 552.7,397.5 552.8,397.8 553.0,398.0 553.1,398.2 553.1,398.3 553.2,398.5 553.3,398.7 553.5,399.0 553.6,399.2 553.7,399.4 553.7,399.4 553.8,399.6 554.0,399.7 554.1,399.9 554.2,400.1 554.3,400.3 554.4,400.3 554.5,400.4 554.6,400.6 554.7,400.7 554.8,400.9 555.0,401.0 555.1,401.1 555.1,401.1 555.2,401.3 555.3,401.4 555.5,401.5 555.6,401.6 555.7,401.7 555.7,401.7 555.8,401.8 556.0,402.0 556.1,402.1 556.2,402.2 556.4,402.2 556.4,402.3 556.5,402.3 556.6,402.4 556.7,402.5 556.9,402.6 557.0,402.7 557.1,402.7 557.1,402.8 557.2,402.8 557.4,402.9 557.5,403.0 557.6,403.1 557.7,403.1 557.7,403.1 557.9,403.2 558.0,403.3 558.1,403.3 558.2,403.4 558.4,403.4 558.4,403.5 558.5,403.5 558.6,403.6 559.1,403.8 559.8,404.0 560.4,404.2 561.1,404.4 561.8,404.6 562.4,404.7 563.1,404.9 563.8,405.0 564.4,405.1 565.1,405.2 565.8,405.3 566.5,405.4 567.1,405.4 567.8,405.5 568.5,405.6 569.1,405.6 569.8,405.7 570.5,405.7 571.2,405.8 571.8,405.8 572.5,405.8 573.2,405.9 573.8,405.9 574.5,405.9 575.2,406.0 575.8,406.0 576.5,406.0 577.2,406.0 577.9,406.0 578.5,406.1 579.2,406.1 579.9,406.1 580.5,406.1 581.2,406.1 581.9,406.1 582.5,406.1 583.2,406.1 583.9,406.2 584.6,406.2 585.2,406.2 585.9,406.2 586.6,406.2 587.2,406.2 587.9,406.2 588.6,406.2 589.3,406.2 589.9,406.2 590.6,406.2 591.3,406.2 591.9,406.2 592.6,406.2 593.3,406.2 593.9,406.2 594.6,406.2 595.3,406.2 596.0,406.2 596.6,406.2 597.3,406.2 598.0,406.2 598.6,406.2 599.3,406.2 600.0,406.2 600.6,406.2 601.3,406.2 602.0,406.2 602.7,406.2 603.3,406.1 604.0,406.1 604.7,406.1 605.3,406.1 606.0,406.1 606.7,406.1 607.3,406.1 608.0,406.0 608.7,406.0 609.4,406.0 610.0,406.0 610.7,406.0 611.4,405.9 612.0,405.9 612.7,405.9 613.4,405.8 614.1,405.8 614.7,405.8 615.4,405.7 616.1,405.7 616.7,405.6 617.4,405.5 618.1,405.5 618.7,405.4 619.4,405.3 620.1,405.2 620.8,405.1 621.4,405.0 622.1,404.9 622.8,404.8 623.4,404.6 624.1,404.4 624.8,404.2 625.4,404.0 625.6,403.9 625.8,403.8 625.9,403.8 626.0,403.7 626.1,403.7 626.1,403.7 626.3,403.6 626.4,403.6 626.5,403.5 626.6,403.4 626.8,403.4 626.8,403.4 626.9,403.3 627.0,403.2 627.1,403.2 627.3,403.1 627.4,403.0 627.5,403.0 627.5,403.0 627.6,402.9 627.8,402.8 627.9,402.7 628.0,402.6 628.1,402.6 628.2,402.5 628.3,402.4 628.4,402.3 628.5,402.3 628.7,402.2 628.8,402.0 628.8,402.0 628.9,401.9 629.0,401.8 629.2,401.7 629.3,401.6 629.4,401.5 629.5,401.4 629.5,401.3 629.7,401.2 629.8,401.1 629.9,400.9 630.0,400.8 630.1,400.6 630.2,400.6 630.3,400.5 630.4,400.3 630.5,400.1 630.7,399.9 630.8,399.7 630.8,399.7 630.9,399.6 631.0,399.3 631.2,399.1 631.3,398.9 631.4,398.7 631.5,398.6 631.5,398.4 631.7,398.2 631.8,397.9 631.9,397.6 632.0,397.3 632.1,397.1 632.2,397.0 632.3,396.7 632.4,396.4 632.5,396.0 632.7,395.7 632.8,395.3 632.8,395.2 632.9,394.9 633.0,394.4 633.2,394.0 633.3,393.5 633.4,393.0 633.5,392.7 633.5,392.4 633.7,391.9 633.8,391.3 633.9,390.6 634.1,389.9 634.2,389.3 634.2,389.2 634.3,388.4 634.4,387.6 634.6,386.7 634.7,385.8 634.8,384.8 634.8,384.6 634.9,383.7 635.1,382.6 635.2,381.3 635.3,380.0 635.4,378.6 635.5,377.7 635.6,377.0 635.7,375.4 635.8,373.5 635.9,372.4 635.9,370.8 636.1,367.8 636.2,365.1 636.2,364.8 636.3,361.8 636.4,358.8 636.6,355.8 636.7,352.8 636.8,349.8 636.8,349.1 636.9,346.8 637.1,343.8 637.2,340.8 637.3,337.4 637.4,334.0 637.5,332.0 637.6,330.6 637.7,327.1 637.8,323.7 637.9,320.3 638.0,317.5 638.1,316.8 638.2,313.4 638.2,313.1 638.3,309.3 638.4,305.6 638.6,301.9 638.7,298.2 638.8,294.4 638.9,293.5 638.9,290.7 639.0,289.2 639.1,288.8 639.2,288.1 639.3,287.4 639.4,286.7 639.5,286.3 639.6,286.1 639.7,285.4 639.8,284.7 640.0,284.0 640.0,283.7 640.1,285.7 640.2,288.9 640.2,289.1 640.3,292.5 640.5,295.9 640.6,299.2 640.7,302.6 640.8,306.0 640.9,306.9 641.0,309.4 641.1,312.7 641.2,316.1 641.3,317.5 641.3,319.3 641.5,322.4 641.5,324.2 641.6,325.4 641.7,328.5 641.8,331.5 642.0,334.6 642.1,337.6 642.2,340.5 642.2,340.7 642.3,343.7 642.5,346.7 642.6,349.7 642.7,352.7 642.8,355.6 642.9,356.5 643.0,358.6 643.1,361.6 643.2,364.6 643.3,367.6 643.5,370.6 643.5,372.2 643.5,372.6 643.6,373.3 643.7,375.2 643.8,376.8 644.0,378.4 644.1,379.8 644.2,381.1 644.2,381.1 644.3,382.3 644.5,383.5 644.6,384.6 644.7,385.6 644.8,386.5 644.9,386.8 645.0,387.4 645.1,388.2 645.2,388.9 645.3,389.6 645.5,390.3 645.6,390.7 645.6,391.0 645.7,391.6 645.9,392.1 646.0,392.6 646.1,393.1 646.2,393.6 646.2,393.6 646.4,394.1 646.5,394.5 646.6,394.9 646.7,395.3 646.9,395.6 646.9,395.8 647.0,396.0 647.1,396.3 647.2,396.6 647.4,396.9 647.5,397.2 647.6,397.4 647.6,397.5 647.7,397.7 647.9,398.0 648.0,398.2 648.1,398.4 648.2,398.6 648.2,398.6 648.4,398.8 648.5,399.0 648.6,399.2 648.7,399.4 648.9,399.6 648.9,399.6 649.0,399.7 649.1,399.9 649.2,400.0 649.4,400.2 649.5,400.3 649.6,400.4 649.6,400.5 649.7,400.6 649.9,400.7 650.0,400.8 650.1,400.9 650.2,401.0 650.2,401.0 650.4,401.1 650.5,401.2 650.6,401.3 650.7,401.4 650.9,401.5 650.9,401.5 651.0,401.6 651.1,401.7 651.2,401.7 651.4,401.8 651.5,401.9 651.6,401.9 651.6,402.0 651.8,402.0 651.9,402.1 652.0,402.1 652.1,402.2 652.3,402.3 652.3,402.3 652.4,402.3 652.5,402.4 652.6,402.4 652.8,402.5 652.9,402.5 652.9,402.5 653.0,402.5 653.1,402.6 653.3,402.6 653.4,402.6 653.5,402.7 653.6,402.7 653.6,402.7 653.8,402.7 654.3,402.8 654.9,402.9 655.6,403.0 656.3,403.0 657.0,402.9 657.6,402.9 657.7,402.8 657.9,402.8 658.0,402.8 658.1,402.8 658.2,402.7 658.3,402.7 658.4,402.7 658.5,402.7 658.6,402.6 658.7,402.6 658.9,402.6 659.0,402.5 659.0,402.5 659.1,402.5 659.2,402.4 659.4,402.4 659.5,402.3 659.6,402.3 659.6,402.3 659.7,402.2 659.9,402.2 660.0,402.1 660.1,402.1 660.3,402.0 660.3,402.0 660.4,401.9 660.5,401.9 660.6,401.8 660.8,401.7 660.9,401.6 661.0,401.6 661.0,401.5 661.1,401.5 661.3,401.4 661.4,401.3 661.5,401.2 661.6,401.1 661.6,401.1 661.8,401.0 661.9,400.8 662.0,400.7 662.1,400.6 662.3,400.5 662.3,400.4 662.4,400.3 662.5,400.2 662.6,400.0 662.8,399.9 662.9,399.7 663.0,399.6 663.0,399.6 663.1,399.4 663.3,399.2 663.4,399.0 663.5,398.8 663.6,398.6 663.7,398.6 663.8,398.4 663.9,398.1 664.0,397.9 664.1,397.6 664.3,397.4 664.3,397.2 664.4,397.1 664.5,396.8 664.6,396.5 664.8,396.1 664.9,395.8 665.0,395.5 665.0,395.4 665.1,395.0 665.3,394.6 665.4,394.2 665.5,393.7 665.6,393.3 665.7,393.2 665.8,392.8 665.9,392.2 666.0,391.6 666.2,391.0 666.3,390.4 666.3,390.0 666.4,389.7 666.5,388.9 666.7,388.1 666.8,387.3 666.9,386.4 667.0,385.6 667.0,385.4 667.2,384.3 667.3,383.2 667.4,382.0 667.5,380.7 667.7,379.3 667.7,379.1 667.8,377.8 667.9,376.1 668.0,374.3 668.2,372.4 668.3,370.3 668.3,369.2 668.4,368.4 668.4,367.7 668.5,366.0 668.7,364.3 668.8,362.6 668.9,360.9 669.0,359.6 669.0,359.3 669.2,357.6 669.3,355.9 669.4,354.2 669.5,352.5 669.7,350.8 669.7,350.5 669.7,350.4 669.8,347.5 669.9,343.8 670.0,340.1 670.2,336.4 670.3,332.7 670.4,330.8 670.4,329.0 670.5,325.3 670.7,321.6 670.8,317.9 670.9,315.8 671.0,314.0 671.0,313.7 671.2,311.6 671.3,309.4 671.4,307.3 671.5,305.2 671.7,303.1 671.7,302.7 671.8,301.0 671.9,298.9 672.1,296.7 672.2,294.6 672.2,294.2 672.3,297.6 672.4,299.8 672.4,301.8 672.6,306.1 672.7,310.3 672.8,314.6 672.9,318.0 672.9,318.8 673.0,322.3 673.1,322.8 673.2,326.9 673.3,331.0 673.4,335.1 673.6,339.2 673.7,343.2 673.7,344.0 673.8,347.3 673.9,350.6 673.9,350.9 674.1,352.6 674.2,354.3 674.3,356.0 674.4,356.9 674.4,357.7 674.6,359.4 674.7,361.1 674.8,362.8 674.9,364.5 675.0,366.0 675.1,366.2 675.2,367.9 675.2,368.6 675.3,370.5 675.4,372.6 675.6,374.5 675.7,376.3 675.7,376.7 675.8,378.0 675.9,379.5 676.1,381.0 676.2,382.3 676.3,383.5 676.4,384.1 676.4,384.6 676.6,385.7 676.7,386.7 676.8,387.6 676.9,388.4 677.1,389.1 677.1,389.2 677.2,390.0 677.3,390.7 677.4,391.4 677.6,392.0 677.7,392.6 677.7,392.7 677.8,393.1 678.0,393.6 678.1,394.1 678.2,394.6 678.3,395.0 678.4,395.3 678.5,395.5 678.6,395.9 678.7,396.2 678.8,396.6 679.0,396.9 679.1,397.2 679.1,397.2 679.2,397.6 679.3,397.8 679.5,398.1 679.6,398.4 679.7,398.6 679.7,398.7 679.8,398.9 680.0,399.1 680.1,399.3 680.2,399.6 680.3,399.8 680.4,399.9 680.5,400.0 680.6,400.1 680.7,400.3 680.8,400.5 681.0,400.7 681.1,400.8 681.1,400.8 681.2,401.0 681.3,401.1 681.5,401.3 681.6,401.4 681.7,401.5 681.8,401.6 681.8,401.7 682.0,401.8 682.1,401.9 682.2,402.0 682.3,402.1 682.4,402.2 682.5,402.2 682.6,402.3 682.7,402.4 682.8,402.5 683.0,402.6 683.1,402.7 683.1,402.7 683.2,402.8 683.3,402.9 683.5,403.0 683.6,403.0 683.7,403.1 683.8,403.1 683.9,403.2 684.0,403.3 684.1,403.3 684.2,403.4 684.4,403.5 684.4,403.5 684.5,403.5 684.6,403.6 684.7,403.7 684.9,403.7 685.0,403.8 685.1,403.8 685.1,403.8 685.2,403.9 685.4,403.9 685.5,404.0 685.6,404.0 685.7,404.1 685.8,404.1 685.9,404.1 686.4,404.3 687.1,404.5 687.8,404.7 688.5,404.9 689.1,405.0 689.8,405.1 690.5,405.2 691.1,405.3 691.8,405.4 692.5,405.5 693.1,405.6 693.8,405.6 694.5,405.7 695.2,405.8 695.8,405.8 696.5,405.9 697.2,405.9 697.8,405.9 698.5,406.0 699.2,406.0 699.8,406.0 700.5,406.1 701.2,406.1 701.9,406.1 702.5,406.1 703.2,406.1 703.9,406.2 704.5,406.2 705.2,406.2 705.9,406.2 706.6,406.2 707.2,406.2 707.9,406.3 708.6,406.3 709.2,406.3 709.9,406.3 710.6,406.3 711.2,406.3 711.9,406.3 712.6,406.3 713.3,406.3 713.9,406.3 714.6,406.3 715.3,406.3 715.9,406.4 716.6,406.4 717.3,406.4 717.9,406.4 718.6,406.4 719.3,406.4 720.0,406.4 720.6,406.4 721.3,406.4" fill="none" stroke="#000" stroke-width="1.4" stroke-linejoin="round"/>
<line x1="420.4" y1="18.9" x2="420.4" y2="406.5" stroke="#000" stroke-width="1.0" opacity="0.6"/>
</g>
<path d="M118.70,406.50v-7.5M118.70,18.90v7.5M138.79,406.50v-4.6M138.79,18.90v4.6M158.87,406.50v-4.6M158.87,18.90v4.6M178.96,406.50v-4.6M178.96,18.90v4.6M199.05,406.50v-4.6M199.05,18.90v4.6M219.13,406.50v-7.5M219.13,18.90v7.5M239.22,406.50v-4.6M239.22,18.90v4.6M259.31,406.50v-4.6M259.31,18.90v4.6M279.39,406.50v-4.6M279.39,18.90v4.6M299.48,406.50v-4.6M299.48,18.90v4.6M319.57,406.50v-7.5M319.57,18.90v7.5M339.65,406.50v-4.6M339.65,18.90v4.6M359.74,406.50v-4.6M359.74,18.90v4.6M379.83,406.50v-4.6M379.83,18.90v4.6M399.91,406.50v-4.6M399.91,18.90v4.6M420.00,406.50v-7.5M420.00,18.90v7.5M440.09,406.50v-4.6M440.09,18.90v4.6M460.17,406.50v-4.6M460.17,18.90v4.6M480.26,406.50v-4.6M480.26,18.90v4.6M500.35,406.50v-4.6M500.35,18.90v4.6M520.43,406.50v-7.5M520.43,18.90v7.5M540.52,406.50v-4.6M540.52,18.90v4.6M560.61,406.50v-4.6M560.61,18.90v4.6M580.69,406.50v-4.6M580.69,18.90v4.6M600.78,406.50v-4.6M600.78,18.90v4.6M620.87,406.50v-7.5M620.87,18.90v7.5M640.95,406.50v-4.6M640.95,18.90v4.6M661.04,406.50v-4.6M661.04,18.90v4.6M681.13,406.50v-4.6M681.13,18.90v4.6M701.21,406.50v-4.6M701.21,18.90v4.6M721.30,406.50v-7.5M721.30,18.90v7.5M106.50,406.50h7.5M733.80,406.50h-7.5M106.50,387.12h4.6M733.80,387.12h-4.6M106.50,367.74h4.6M733.80,367.74h-4.6M106.50,348.36h4.6M733.80,348.36h-4.6M106.50,328.98h7.5M733.80,328.98h-7.5M106.50,309.60h4.6M733.80,309.60h-4.6M106.50,290.22h4.6M733.80,290.22h-4.6M106.50,270.84h4.6M733.80,270.84h-4.6M106.50,251.46h7.5M733.80,251.46h-7.5M106.50,232.08h4.6M733.80,232.08h-4.6M106.50,212.70h4.6M733.80,212.70h-4.6M106.50,193.32h4.6M733.80,193.32h-4.6M106.50,173.94h7.5M733.80,173.94h-7.5M106.50,154.56h4.6M733.80,154.56h-4.6M106.50,135.18h4.6M733.80,135.18h-4.6M106.50,115.80h4.6M733.80,115.80h-4.6M106.50,96.42h7.5M733.80,96.42h-7.5M106.50,77.04h4.6M733.80,77.04h-4.6M106.50,57.66h4.6M733.80,57.66h-4.6M106.50,38.28h4.6M733.80,38.28h-4.6M106.50,18.90h7.5M733.80,18.90h-7.5" stroke="#000" stroke-width="0.8" fill="none" opacity="0.75"/>
<rect x="106.5" y="18.9" width="627.3" height="387.6" fill="none" stroke="#000" stroke-width="1.0" opacity="0.85"/>
<path d="M167.0,317.4H182.0M187.9,317.4H202.2M295.5,317.4H310.5M315.9,317.4H330.8M509.1,317.4H524.4M529.5,317.4H543.9M637.5,317.4H651.8M657.0,317.4H672.65" stroke="#000" stroke-width="4.7" fill="none"/>
<line x1="311.53" y1="116.30" x2="311.53" y2="407.6" stroke="#ff0000" stroke-width="5.2" stroke-dasharray="15.1 4.77"/><line x1="528.47" y1="116.30" x2="528.47" y2="407.6" stroke="#ff0000" stroke-width="5.2" stroke-dasharray="15.1 4.77"/><line x1="183.98" y1="155.90" x2="183.98" y2="407.6" stroke="#0000ff" stroke-width="5.2" stroke-dasharray="15.1 4.77"/><line x1="656.02" y1="155.90" x2="656.02" y2="407.6" stroke="#0000ff" stroke-width="5.2" stroke-dasharray="15.1 4.77"/>
<path d="M83.00,432.9h18.1M183.43,432.9h18.1M283.87,432.9h18.1M321.3,476.7h18.2" stroke="#000" stroke-width="1.5" fill="none"/>
<g opacity="0.999">
<text transform="translate(37.91,417.60)" font-size="35">0.00</text>
<text transform="translate(37.91,340.08)" font-size="35">0.02</text>
<text transform="translate(37.91,262.56)" font-size="35">0.04</text>
<text transform="translate(37.91,185.04)" font-size="35">0.06</text>
<text transform="translate(37.91,107.52)" font-size="35">0.08</text>
<text transform="translate(37.91,30.00)" font-size="35">0.10</text>
<text transform="translate(104.61,442.55)" font-size="35">300</text>
<text transform="translate(205.59,442.55)" font-size="35">200</text>
<text transform="translate(304.38,442.55)" font-size="35">100</text>
<text transform="translate(411.55,442.55)" font-size="35">0</text>
<text transform="translate(493.66,442.55)" font-size="35">100</text>
<text transform="translate(594.92,442.55)" font-size="35">200</text>
<text transform="translate(695.08,442.55)" font-size="35">300</text>
<text transform="translate(294.41,484.90)" font-size="35" font-style="italic">ω</text>
<text transform="translate(340.61,484.90)" font-size="35" font-style="italic">ω</text>
<text transform="translate(365.60,491.80) scale(1.25,1)" font-size="20.5" font-style="italic">L</text>
<text transform="translate(389.88,484.90)" font-size="32.5">(</text>
<text transform="translate(400.60,484.90)" font-size="34.6">units of</text>
<text transform="translate(533.78,484.90)" font-size="32.5">)</text>
<text transform="translate(270.22,88.70) scale(1.07,1)" font-size="37.5" fill="#ff0000">Ω</text>
<text transform="translate(299.91,87.90)" font-size="35" fill="#ff0000">(</text>
<text transform="translate(311.74,88.40)" font-size="37" font-style="italic" fill="#ff0000">r</text>
<text transform="translate(327.12,95.00) scale(0.86,1)" font-size="26.5" fill="#ff0000">1</text>
<text transform="translate(339.81,87.90)" font-size="35" fill="#ff0000">)</text>
<text transform="translate(487.12,88.70) scale(1.07,1)" font-size="37.5" fill="#ff0000">Ω</text>
<text transform="translate(516.81,87.90)" font-size="35" fill="#ff0000">(</text>
<text transform="translate(528.64,88.40)" font-size="37" font-style="italic" fill="#ff0000">r</text>
<text transform="translate(544.02,95.00) scale(0.86,1)" font-size="26.5" fill="#ff0000">1</text>
<text transform="translate(556.71,87.90)" font-size="35" fill="#ff0000">)</text>
<text transform="translate(142.22,127.80) scale(1.07,1)" font-size="37.5" fill="#0000ff">Ω</text>
<text transform="translate(171.91,127.00)" font-size="35" fill="#0000ff">(</text>
<text transform="translate(183.74,127.50)" font-size="37" font-style="italic" fill="#0000ff">r</text>
<text transform="translate(198.45,133.70) scale(1.03,1)" font-size="26.5" fill="#0000ff">2</text>
<text transform="translate(212.81,127.00)" font-size="35" fill="#0000ff">)</text>
<text transform="translate(614.22,127.80) scale(1.07,1)" font-size="37.5" fill="#0000ff">Ω</text>
<text transform="translate(643.91,127.00)" font-size="35" fill="#0000ff">(</text>
<text transform="translate(655.74,127.50)" font-size="37" font-style="italic" fill="#0000ff">r</text>
<text transform="translate(670.45,133.70) scale(1.03,1)" font-size="26.5" fill="#0000ff">2</text>
<text transform="translate(684.81,127.00)" font-size="35" fill="#0000ff">)</text>
<text transform="translate(191.19,259.20) scale(1.05,1)" font-size="37">2</text>
<text transform="translate(219.06,259.20) scale(1.06,1)" font-size="37">Ω</text>
<text transform="translate(247.46,264.50)" font-size="27">22</text>
<text transform="translate(533.29,259.20) scale(1.05,1)" font-size="37">2</text>
<text transform="translate(561.16,259.20) scale(1.06,1)" font-size="37">Ω</text>
<text transform="translate(589.56,264.50)" font-size="27">22</text>
<text transform="translate(27.20,244.44) rotate(-90) scale(0.74,1)" font-size="32" style="font-family:&quot;Liberation Sans&quot;,sans-serif">S</text>
<text transform="translate(27.20,228.77) rotate(-90) scale(1.05,1)" font-size="32.5">(</text>
<text transform="translate(27.20,217.22) rotate(-90) scale(1.1,1)" font-size="35.5" font-style="italic">ω</text>
<text transform="translate(27.20,190.97) rotate(-90) scale(1.05,1)" font-size="32.5">)</text>
</g>
<g transform="translate(510,462)"><path d="M5.3,13.6 C6.3,10.2 8.6,8.0 11.0,8.0 C13.4,8.0 14.6,10.4 15.3,13.4 L16.9,20.0 C16.4,22.6 15.0,25.4 14.0,27.6 C13.3,29.5 12.3,30.7 10.9,30.7 C9.7,30.7 9.2,29.6 9.7,28.3 C10.6,26.1 13.7,23.6 15.4,20.7 L13.0,14.2 C12.5,12.1 11.8,11.0 10.6,11.0 C9.0,11.0 7.2,12.2 6.0,14.0 Z"/><path d="M22.6,8.1 L23.8,8.4 L16.8,21.2 L15.6,20.4 Z"/></g>
</svg>
</body></html>
